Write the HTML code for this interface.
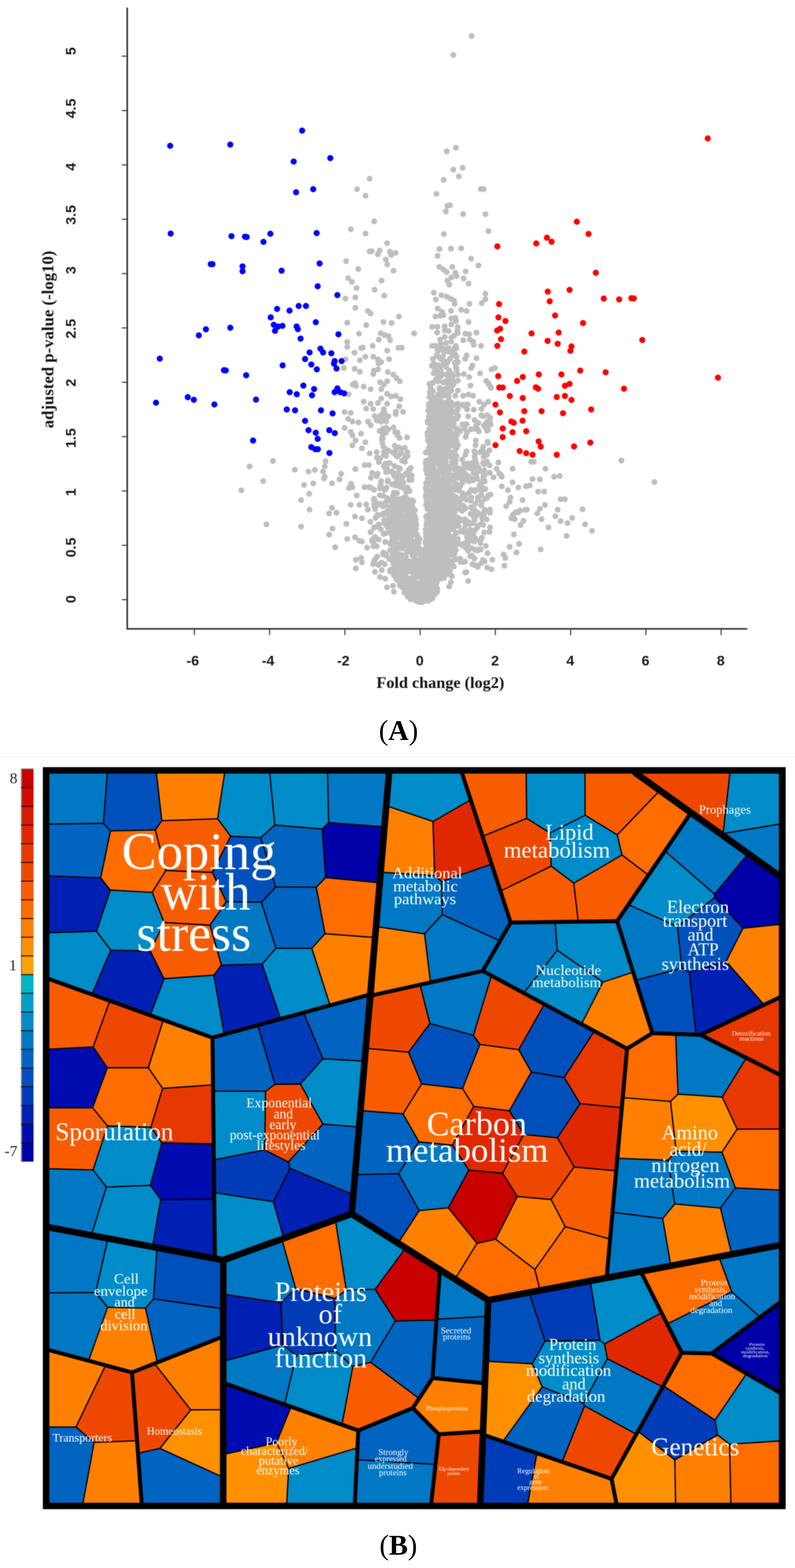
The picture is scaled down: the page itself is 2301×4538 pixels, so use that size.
<!DOCTYPE html>
<html><head><meta charset="utf-8"><title>Figure</title>
<style>html,body{margin:0;padding:0;background:#fff;overflow:hidden}svg{display:block}#volcano{filter:blur(1.1px)}#treemap,#colorbar{filter:blur(0.9px)}</style></head>
<body><svg width="2301" height="4538" viewBox="0 0 2301 4538">
<rect width="2301" height="4538" fill="#fff"/>
<g id="volcano">
<path d="M1070.0 517.5h0M1033.5 547.5h0M1058.0 566.5h0M1015.5 663.5h0M1058.0 676.0h0M1070.0 727.5h0M1001.5 756.0h0M1037.0 778.5h0M1007.5 805.0h0M1018.5 816.0h0M1032.0 833.5h0M1000.0 864.0h0M1028.5 861.0h0M1028.5 891.0h0M1065.0 900.0h0M1005.0 934.0h0M1060.0 941.0h0M1039.0 966.0h0M790.0 1334.0h0M722.5 1350.0h0M853.5 1359.5h0M761.5 1392.5h0M698.5 1419.0h0M893.0 1365.0h0M911.5 1360.0h0M942.5 1335.0h0M940.0 1350.0h0M935.0 1365.0h0M937.5 1385.0h0M880.0 1403.5h0M906.5 1399.0h0M961.0 1399.0h0M987.5 1371.0h0M982.5 1387.5h0M1028.5 1357.5h0M1055.0 1346.0h0M1067.5 1346.0h0M895.0 1429.0h0M871.5 1447.5h0M896.0 1475.0h0M961.0 1470.0h0M952.5 1486.0h0M974.0 1484.0h0M771.0 1517.5h0M871.5 1524.0h0M962.5 1530.0h0M952.5 1547.5h0M970.0 1584.0h0M1016.0 1400.0h0M1010.0 1412.5h0M1032.5 1434.0h0M1015.0 1461.0h0M1040.0 1461.0h0M1027.5 1495.0h0M1047.5 1500.0h0M1002.5 1516.0h0M1005.0 1560.0h0M1027.5 1555.0h0M1047.5 1567.5h0M1062.5 1585.0h0M1055.0 1410.0h0M1067.5 1410.0h0M1060.0 1460.0h0M1065.0 1475.0h0M1005.0 990.0h0M1005.0 1004.0h0M1045.0 1007.5h0M1026.0 1021.0h0M1057.5 1032.5h0M1000.0 1040.0h0M1041.5 1042.5h0M995.0 1065.0h0M1026.5 1067.5h0M1041.5 1076.0h0M1027.5 1109.0h0M1052.5 1119.0h0M1009.0 1141.0h0M1052.5 1162.5h0M1060.0 1182.5h0M997.5 1192.5h0M1015.0 1195.0h0M1007.5 1212.5h0M1020.0 1220.0h0M1037.5 1222.5h0M1065.0 1220.0h0M997.5 1238.5h0M1015.0 1250.0h0M1020.0 1260.0h0M1045.0 1255.0h0M1029.0 1275.0h0M1020.0 1289.0h0M1057.5 1280.0h0M1047.5 1297.5h0M1400.0 547.5h0M1405.0 620.0h0M1413.5 669.0h0M1405.0 850.0h0M1405.0 866.0h0M1422.5 1069.0h0M1432.5 1065.0h0M1407.5 1102.5h0M1417.5 1116.0h0M1413.5 1162.5h0M1405.0 1227.5h0M1407.5 1240.0h0M1412.5 1245.0h0M1411.0 1278.5h0M1400.0 1322.5h0M1798.5 1333.0h0M1894.0 1395.0h0M1442.5 1338.5h0M1537.5 1336.5h0M1545.0 1336.5h0M1483.5 1356.5h0M1437.5 1356.5h0M1578.5 1356.5h0M1445.0 1370.0h0M1428.5 1381.5h0M1452.5 1380.0h0M1604.0 1380.0h0M1620.0 1377.5h0M1483.5 1396.0h0M1541.5 1386.5h0M1562.5 1387.5h0M1522.5 1407.5h0M1533.5 1405.0h0M1500.0 1411.0h0M1452.5 1407.5h0M1470.0 1418.5h0M1557.5 1423.0h0M1575.0 1423.0h0M1622.5 1445.0h0M1635.0 1445.0h0M1477.5 1440.0h0M1475.0 1452.5h0M1512.5 1447.5h0M1577.5 1461.5h0M1562.5 1472.5h0M1614.0 1475.0h0M1686.0 1474.0h0M1520.0 1476.0h0M1505.0 1477.5h0M1492.5 1482.5h0M1555.0 1486.0h0M1482.5 1495.0h0M1490.0 1502.5h0M1607.5 1494.0h0M1656.0 1499.0h0M1567.5 1502.5h0M1515.0 1507.5h0M1622.5 1508.5h0M1642.5 1514.0h0M1693.5 1517.5h0M1506.5 1520.0h0M1587.5 1526.5h0M1713.5 1536.5h0M1487.5 1546.5h0M1640.0 1551.0h0M1502.5 1574.0h0M1475.0 1582.5h0M1565.0 1590.0h0M1365.0 104.0h0M1312.0 159.0h0M1319.5 427.5h0M1293.0 438.0h0M1339.0 485.5h0M1312.0 491.0h0M1328.0 510.5h0M1284.0 520.5h0M1391.5 547.0h0M1263.0 561.0h0M1295.0 596.0h0M1302.5 594.0h0M1290.5 612.0h0M1340.5 619.5h0M1284.5 677.5h0M1083.0 640.5h0M1120.5 704.0h0M1075.8 727.1h0M1098.8 725.2h0M1093.8 735.9h0M1128.3 728.3h0M1144.7 732.1h0M1132.1 737.9h0M1116.8 751.3h0M1121.0 765.4h0M1139.0 783.8h0M1104.5 812.1h0M1084.2 838.5h0M1112.2 855.8h0M1072.7 907.5h0M1154.7 915.9h0M1109.9 932.0h0M1133.2 935.0h0M1198.7 964.9h0M1101.8 964.5h0M1112.9 969.5h0M1124.4 973.3h0M1096.5 982.9h0M1129.0 984.8h0M1078.5 1000.9h0M1049.8 1005.8h0M1120.6 1014.7h0M1153.1 1006.6h0M1162.7 1006.6h0M1080.4 1032.6h0M1093.8 1040.3h0M1103.4 1048.0h0M1095.7 1051.8h0M1126.3 1039.2h0M1093.8 1069.0h0M1082.3 1072.8h0M1080.4 1082.4h0M1122.5 1076.7h0M1138.6 1084.3h0M1147.4 1093.9h0M1157.0 1103.5h0M1120.6 1103.5h0M1100.3 1106.5h0M1111.0 1113.0h0M1021.1 1113.0h0M1030.6 1116.9h0M1072.7 1126.4h0M1103.4 1126.4h0M1120.6 1139.8h0M1132.1 1147.5h0M1145.5 1145.6h0M1158.9 1155.2h0M1103.4 1153.2h0M1093.8 1166.6h0M1120.6 1168.6h0M1072.7 1168.6h0M1155.1 1176.2h0M1080.4 1183.9h0M1111.0 1183.9h0M1271.8 720.6h0M1305.1 719.5h0M1335.0 718.7h0M1266.5 740.5h0M1363.7 748.6h0M1384.8 768.5h0M1271.8 772.3h0M1283.3 780.0h0M1292.9 787.6h0M1309.0 772.3h0M1317.8 789.5h0M1321.6 799.1h0M1306.3 802.9h0M1294.8 812.5h0M1300.5 824.0h0M1347.6 785.7h0M1341.9 806.0h0M1356.0 820.9h0M1255.7 847.0h0M1277.6 854.6h0M1292.9 858.5h0M1304.4 864.2h0M1313.9 869.9h0M1315.8 879.5h0M1261.5 866.9h0M1394.3 877.6h0M1358.7 879.5h0M1266.8 892.9h0M1279.5 902.5h0M1305.5 899.8h0M1335.0 896.7h0M1350.3 899.8h0M1260.3 915.9h0M1273.7 914.0h0M1283.3 912.1h0M1306.3 921.6h0M1317.8 919.7h0M1319.7 929.3h0M1356.0 932.0h0M1250.8 945.7h0M1266.1 945.7h0M1287.1 944.6h0M1306.3 938.9h0M1324.7 947.3h0M1265.3 962.6h0M1287.1 956.1h0M1298.6 958.0h0M1323.5 958.0h0M1346.5 965.7h0M1358.0 967.6h0M1379.0 962.6h0M1273.7 982.9h0M1287.1 975.2h0M1306.3 977.1h0M1313.9 971.4h0M1325.4 963.7h0M1340.7 984.8h0M1359.9 982.9h0M1369.4 988.6h0M1371.4 998.2h0M1392.4 1000.9h0M1250.8 1000.9h0M1275.7 996.3h0M1291.0 992.5h0M1306.3 988.6h0M1281.4 1007.8h0M1298.6 1007.8h0M1310.1 1013.5h0M1268.0 1015.4h0M1285.2 1019.2h0M1264.2 1026.9h0M1317.8 1026.1h0M1252.7 1038.4h0M1275.7 1038.4h0M1302.5 1038.4h0M1325.4 1048.0h0M1346.5 1038.4h0M1350.3 1028.8h0M1379.0 1036.5h0M1254.6 1059.4h0M1268.0 1057.5h0M1283.3 1055.6h0M1363.7 1065.2h0M1367.5 1057.5h0M1260.3 1072.8h0M1275.7 1072.8h0M1300.5 1072.8h0M1321.6 1070.9h0M1389.4 1080.5h0M1268.0 1088.2h0M1291.0 1084.3h0M1310.1 1088.2h0M1325.4 1084.3h0M1342.6 1082.4h0M1358.0 1091.2h0M1413.5 1109.2h0M1421.1 1122.6h0M1243.1 1111.1h0M1268.0 1103.5h0M1283.3 1107.3h0M1310.1 1105.4h0M1325.4 1101.6h0M1361.8 1115.7h0M1271.8 1122.6h0M1291.0 1126.4h0M1306.3 1130.3h0M1325.4 1130.3h0M1245.0 1143.7h0M1268.0 1141.8h0M1283.3 1145.6h0M1298.6 1149.4h0M1317.8 1145.6h0M1340.7 1145.6h0M1356.0 1141.8h0M1369.4 1145.6h0M1387.4 1162.8h0M1243.1 1168.6h0M1260.3 1164.7h0M1275.7 1168.6h0M1291.0 1172.4h0M1306.3 1164.7h0M1325.4 1168.6h0M1352.2 1170.5h0M1268.0 1183.9h0M1287.1 1183.9h0M1306.3 1183.9h0M1325.4 1183.9h0M1371.4 1185.8h0M940.0 1380.0h0M1020.0 1410.0h0M1082.5 1417.5h0M1040.0 1565.0h0M1082.5 1527.5h0M1072.5 1540.0h0M1030.0 1620.0h0M1045.0 1615.0h0M1030.0 1645.0h0M1047.5 1627.5h0M1080.0 1632.5h0M1095.0 1635.0h0M1085.0 1655.0h0M1105.0 1650.0h0M1100.0 1670.0h0M1115.0 1675.0h0M1120.0 1700.0h0M1137.5 1695.0h0M1140.0 1712.5h0M1450.0 1375.0h0M1465.0 1465.0h0M1525.0 1475.0h0M1500.0 1482.5h0M1485.0 1490.0h0M1480.0 1500.0h0M1495.0 1599.0h0M1457.5 1605.0h0M1462.5 1615.0h0M1425.0 1620.0h0M1460.0 1637.5h0M1410.0 1642.5h0M1422.5 1647.5h0M1355.0 1681.5h0M1305.0 1685.0h0M1300.0 1697.5h0M1090.3 1378.5h0M1218.6 1616.8h0M1293.6 1277.8h0M1308.1 1319.0h0M1274.9 1338.1h0M1271.0 1391.8h0M1123.2 1364.8h0M1278.0 1432.6h0M1262.3 1659.0h0M1292.0 1046.4h0M1105.5 1271.3h0M1376.0 1458.1h0M1233.1 1360.9h0M1402.8 1394.1h0M1251.2 1265.2h0M1298.5 1596.5h0M1332.5 1356.6h0M1401.4 1540.7h0M1262.0 1097.7h0M1160.8 1312.6h0M1274.2 1674.6h0M1264.8 1243.2h0M1264.4 1585.1h0M1266.1 1185.4h0M1284.4 1377.1h0M1237.3 1702.4h0M1265.8 1703.7h0M1240.5 1738.4h0M1288.4 1382.1h0M1106.7 1198.1h0M1269.7 1522.5h0M1176.8 1566.6h0M1245.0 1132.7h0M1236.2 1697.2h0M1178.3 1266.0h0M1140.3 1376.5h0M1246.5 1622.9h0M1309.0 1517.2h0M1289.7 1467.2h0M1237.7 1510.0h0M1285.9 1479.5h0M1176.5 1423.6h0M1312.3 1504.1h0M1250.8 1346.6h0M1384.2 1362.7h0M1180.6 1626.8h0M1332.8 1626.0h0M1248.8 1141.6h0M1262.2 1536.8h0M1295.6 1213.5h0M1253.5 1281.1h0M1295.9 1226.6h0M1274.0 1289.5h0M1231.2 1715.4h0M1306.1 1313.3h0M1173.2 1710.1h0M1193.0 1712.8h0M1354.1 1571.9h0M1285.9 1195.6h0M1242.7 1692.4h0M1318.4 1333.4h0M1268.4 1278.2h0M1247.6 1172.6h0M1236.2 1611.1h0M1278.7 1462.5h0M1159.2 1447.2h0M1141.2 1593.3h0M1262.5 1476.8h0M1127.3 1518.8h0M1218.3 1612.0h0M1379.0 1343.8h0M1251.3 1286.1h0M1083.3 1625.3h0M1279.8 1410.3h0M1241.3 1175.5h0M1343.0 1341.9h0M1202.3 1709.3h0M1242.2 1713.7h0M1247.1 1238.0h0M1307.9 1668.0h0M1292.7 1268.4h0M1264.3 1432.7h0M1208.0 1595.1h0M1337.6 1329.9h0M1275.1 1495.1h0M1285.6 1322.4h0M1298.6 1016.6h0M1141.5 1465.5h0M1266.8 1261.3h0M1225.3 1699.1h0M1157.0 1674.0h0M1256.0 1302.9h0M1090.4 1581.0h0M1262.8 1701.9h0M1139.8 1453.6h0M1294.5 1606.8h0M1232.8 1553.3h0M1290.7 1516.9h0M1314.2 1639.7h0M1144.2 1464.5h0M1320.5 1274.5h0M1316.6 1401.3h0M1241.8 1366.6h0M1245.4 1283.0h0M1184.3 1389.5h0M1138.7 1475.9h0M1142.3 1289.7h0M1245.2 1471.8h0M1119.6 1450.4h0M1270.9 1558.8h0M1307.9 1478.6h0M1179.6 1468.7h0M1290.4 1186.5h0M1299.1 1580.5h0M1241.4 1727.1h0M1399.2 1387.3h0M1271.1 1403.6h0M1249.3 1476.9h0M1143.5 1510.5h0M1292.0 1350.0h0M1293.6 1610.8h0M1291.6 1011.2h0M1386.4 1590.6h0M1255.8 1553.5h0M1242.0 1371.6h0M1233.8 1419.7h0M1288.8 1252.6h0M1172.5 1617.5h0M1246.3 1202.7h0M1275.3 1473.6h0M1283.0 1490.9h0M1289.4 1519.5h0M1071.7 1510.1h0M1154.8 1547.2h0M1369.4 1544.4h0M1290.0 1529.1h0M1321.0 1008.5h0M1297.7 1609.7h0M1178.9 1544.2h0M1371.3 1362.8h0M1197.1 1481.1h0M1316.1 1617.2h0M1280.4 1230.2h0M1280.6 1668.5h0M1276.3 1141.1h0M1133.2 1523.0h0M1267.6 1300.3h0M1190.7 1387.5h0M1240.2 1423.1h0M1265.1 1649.5h0M1279.3 1296.5h0M1289.9 1337.4h0M1319.8 1412.8h0M1181.3 1673.8h0M1146.4 1426.2h0M1283.0 1369.6h0M1236.8 1650.5h0M1135.1 1620.4h0M1243.2 1382.9h0M1157.7 1609.6h0M1253.0 1524.2h0M1374.3 1535.0h0M1291.6 1603.7h0M1163.0 1506.1h0M1259.8 1689.6h0M1233.2 1398.2h0M1283.5 1425.4h0M1140.4 1529.9h0M1261.8 1457.1h0M1249.4 1285.8h0M1374.9 1328.2h0M1193.4 1503.8h0M1236.3 1585.6h0M1244.3 1718.2h0M1282.6 1283.2h0M1244.8 1331.2h0M1267.7 1371.0h0M1251.1 1385.9h0M1359.1 1382.4h0M1246.7 1140.3h0M1290.5 1449.9h0M1417.8 1474.8h0M1214.0 1587.6h0M1163.1 1482.5h0M1252.9 1614.1h0M1239.5 1591.4h0M1124.6 1526.6h0M1164.4 1622.9h0M1201.9 1715.0h0M1161.3 1671.1h0M1144.4 1650.8h0M1249.6 1404.8h0M1268.7 1231.8h0M1182.4 1494.4h0M1266.7 1269.7h0M1116.3 1206.3h0M1307.9 1495.1h0M1156.9 1631.6h0M1290.1 1135.5h0M1320.8 1190.0h0M1309.5 1260.4h0M1218.4 1693.9h0M1114.7 1568.4h0M1316.0 1601.1h0M1260.4 1186.3h0M1304.6 1177.5h0M1129.2 1497.2h0M1231.4 1571.6h0M1139.0 1523.4h0M1199.2 1620.2h0M1225.1 1723.5h0M1169.1 1493.6h0M1267.2 1259.7h0M1283.2 1221.6h0M1255.5 1421.4h0M1149.3 1427.2h0M1249.6 1439.0h0M1267.1 1578.1h0M1219.1 1662.9h0M1085.2 1450.4h0M1262.1 1599.1h0M1273.5 1084.7h0M1264.0 1216.4h0M1258.5 1514.4h0M1207.7 1651.3h0M1382.9 1439.6h0M1272.0 1289.4h0M1266.2 1575.1h0M1248.1 1473.9h0M1262.8 1302.8h0M1238.5 1274.0h0M1178.0 1542.1h0M1274.2 1059.7h0M1166.6 1192.1h0M1281.0 1644.6h0M1184.4 1559.0h0M1090.1 1309.0h0M1289.2 1249.6h0M1279.2 1191.7h0M1323.4 1245.6h0M1258.5 1439.0h0M1300.1 1448.8h0M1299.4 1577.5h0M1244.6 1474.5h0M1289.5 1167.2h0M1141.1 1566.3h0M1239.9 1664.7h0M1309.0 1445.8h0M1272.7 1658.6h0M1418.2 1222.0h0M1151.1 1321.2h0M1117.5 1319.6h0M1243.7 1685.3h0M1326.0 1203.6h0M1248.1 1304.5h0M1298.6 1405.8h0M1321.2 1297.9h0M1216.7 1725.8h0M1183.5 1482.1h0M1180.5 1724.8h0M1290.3 1554.5h0M1284.5 1505.2h0M1290.1 1405.1h0M1284.4 1197.6h0M1235.6 1538.3h0M1254.6 1606.8h0M1294.2 1617.3h0M1361.2 1610.1h0M1194.8 1599.2h0M1237.4 1595.5h0M1122.5 1507.4h0M1252.2 1177.3h0M1140.3 1425.6h0M1132.5 1535.8h0M1286.3 1277.2h0M1303.0 1245.8h0M1243.8 1672.4h0M1231.8 1626.3h0M1235.8 1664.2h0M1241.9 1381.8h0M1304.6 1552.4h0M1339.2 1574.3h0M1318.9 1360.2h0M1257.9 1278.9h0M1241.1 1435.5h0M1256.6 1305.1h0M1225.7 1655.0h0M1306.2 1220.0h0M1300.6 1192.2h0M1310.1 1115.5h0M1181.6 1418.2h0M1243.8 1693.7h0M1239.7 1644.5h0M1259.3 1066.0h0M1400.5 1489.8h0M1278.5 1344.2h0M1201.1 1494.7h0M1111.2 1349.0h0M1257.4 1378.1h0M1245.6 1664.4h0M1269.6 1514.0h0M1172.2 1664.3h0M1272.5 1174.5h0M1344.4 1530.2h0M1231.6 1687.0h0M1366.0 1586.8h0M1321.1 1260.5h0M1174.6 1716.9h0M1309.9 1530.0h0M1112.2 1509.5h0M1229.1 1603.8h0M1291.2 1280.4h0M1197.3 1728.2h0M1325.1 1559.4h0M1217.2 1729.7h0M1204.9 1718.8h0M1234.6 1416.8h0M1290.6 1193.8h0M1193.8 1701.2h0M1312.2 1577.9h0M1207.4 1601.1h0M1252.4 1499.4h0M1116.7 1252.7h0M1303.7 1431.1h0M1270.8 1204.3h0M1346.0 1625.4h0M1284.3 1205.2h0M1281.2 1614.9h0M1195.9 1521.8h0M1363.5 1242.6h0M1290.2 1103.5h0M1146.3 1591.9h0M1080.7 1580.5h0M1246.6 1316.2h0M1290.5 1540.5h0M1317.9 1339.2h0M1138.0 1549.1h0M1290.6 1196.8h0M1236.7 1613.1h0M1274.9 1282.7h0M1274.9 1474.7h0M1305.5 1532.4h0M1297.3 1516.3h0M1076.4 1564.8h0M1264.6 1612.7h0M1286.9 1443.5h0M1171.8 1296.1h0M1354.0 1341.7h0M1367.4 1632.8h0M1252.0 1339.9h0M1283.9 1483.8h0M1363.0 1534.6h0M1308.3 1634.1h0M1179.8 1467.7h0M1258.0 1720.4h0M1255.8 1484.9h0M1276.9 1489.5h0M1313.2 1226.7h0M1275.4 1493.3h0M1197.3 1539.1h0M1294.5 1352.0h0M1234.2 1698.7h0M1253.7 1178.8h0M1162.9 1689.4h0M1298.5 1383.9h0M1234.6 1552.4h0M1198.7 1673.4h0M1249.1 1707.4h0M1126.7 1617.7h0M1282.6 1192.4h0M1266.7 1531.0h0M1273.5 1661.3h0M1255.3 1633.2h0M1298.7 1382.6h0M1155.3 1491.0h0M1253.4 1505.3h0M1305.2 1596.5h0M1236.4 1505.7h0M1145.2 1198.5h0M1271.9 1265.3h0M1130.6 1519.1h0M1395.1 1418.0h0M1123.9 1516.7h0M1346.9 1172.5h0M1302.2 1421.5h0M1137.5 1434.5h0M1291.9 1179.7h0M1285.2 1672.8h0M1178.9 1494.2h0M1247.4 1388.9h0M1239.2 1188.4h0M1319.3 1574.7h0M1292.9 1207.8h0M1233.1 1462.0h0M1170.8 1572.9h0M1256.1 1621.5h0M1130.8 1570.7h0M1235.5 1713.5h0M1234.2 1739.0h0M1149.5 1678.5h0M1292.5 1661.9h0M1203.2 1626.4h0M1258.7 1251.0h0M1234.7 1671.1h0M1179.0 1652.0h0M1251.5 1361.1h0M1321.1 1320.3h0M1253.3 1612.0h0M1245.8 1670.4h0M1249.6 1349.3h0M1348.9 1505.5h0M1187.6 1571.9h0M1286.4 1226.2h0M1240.2 1704.8h0M1139.3 1441.6h0M1276.5 1505.2h0M1237.9 1369.8h0M1258.6 1205.8h0M1262.8 1687.8h0M1317.9 1470.1h0M1418.2 1526.6h0M1390.2 1418.4h0M1181.4 1565.1h0M1241.1 1205.2h0M1106.0 1206.4h0M1159.8 1544.8h0M1145.1 1488.1h0M1120.7 1506.9h0M1157.2 1607.9h0M1234.2 1536.1h0M1190.1 1695.9h0M1117.8 1607.8h0M1147.4 1676.2h0M1256.5 1637.7h0M1308.7 1555.6h0M1263.9 1302.2h0M1336.7 1439.7h0M1196.8 1708.3h0M1260.1 1643.5h0M1196.1 1451.2h0M1142.0 1378.6h0M1319.6 1001.3h0M1219.3 1722.9h0M1163.6 1656.8h0M1183.2 1720.9h0M1195.6 1671.5h0M1276.0 1597.4h0M1246.0 1428.5h0M1281.4 1135.0h0M1098.8 1247.4h0M1297.1 1316.0h0M1249.3 1698.7h0M1366.6 1483.4h0M1320.9 1380.9h0M1137.9 1499.7h0M1355.1 1353.2h0M1109.5 1240.2h0M1274.1 1539.4h0M1372.7 1475.0h0M1375.2 1534.8h0M1203.2 1500.9h0M1239.0 1251.7h0M1248.7 1438.7h0M1256.1 1205.7h0M1157.1 1690.5h0M1151.8 1585.2h0M1150.3 1251.3h0M1179.9 1726.8h0M1278.3 1190.4h0M1200.1 1567.9h0M1307.9 1465.9h0M1271.1 1240.2h0M1183.9 1480.7h0M1154.1 1639.0h0M1275.5 1281.4h0M1288.7 1580.3h0M1261.9 1288.9h0M1224.1 1740.8h0M1200.1 1642.5h0M1285.2 1420.3h0M1301.9 1495.9h0M1230.0 1620.6h0M1244.0 1352.4h0M1160.6 1480.8h0M1179.9 1410.8h0M1239.2 1460.0h0M1178.0 1506.3h0M1285.8 1581.8h0M1268.3 1561.8h0M1227.0 1723.5h0M1284.3 1643.0h0M1156.7 1518.5h0M1191.6 1546.2h0M1193.7 1606.1h0M1166.6 1474.2h0M1158.9 1619.7h0M1280.5 1467.0h0M1248.3 1111.2h0M1236.3 1401.1h0M1246.3 1624.3h0M1146.2 1582.7h0M1296.9 1277.2h0M1360.8 1355.1h0M1212.2 1664.9h0M1301.3 1417.5h0M1271.2 1182.9h0M1289.5 1471.5h0M1319.4 1543.3h0M1294.9 1489.9h0M1279.0 1251.2h0M1304.6 1214.0h0M1110.5 1545.4h0M1245.5 1309.5h0M1227.1 1652.0h0M1266.3 1310.5h0M1225.5 1683.1h0M1275.1 1529.9h0M1114.3 1353.1h0M1086.4 1553.7h0M1246.4 1536.8h0M1214.3 1665.9h0M1296.7 1604.0h0M1160.7 1459.7h0M1231.9 1532.3h0M1297.3 1512.7h0M1269.3 1384.5h0M1163.7 1587.4h0M1144.2 1251.1h0M1113.6 1632.7h0M1262.4 1606.4h0M1258.9 1198.3h0M1136.9 1528.4h0M1184.1 1692.2h0M1231.6 1566.7h0M1096.6 1337.6h0M1275.2 1177.4h0M1242.0 1294.7h0M1246.9 1241.0h0M1161.6 1463.0h0M1259.8 1280.2h0M1350.1 1446.2h0M1302.8 1206.3h0M1271.9 1282.7h0M1260.1 1692.5h0M1237.3 1473.2h0M1182.1 1653.8h0M1149.2 1525.8h0M1282.0 1242.8h0M1191.1 1599.3h0M1353.6 1170.9h0M1373.6 1616.2h0M1268.4 1205.6h0M1338.2 1228.5h0M1168.6 1575.6h0M1192.2 1656.4h0M1095.7 1561.6h0M1302.3 1651.7h0M1168.8 1551.4h0M1293.5 1358.5h0M1268.4 1643.4h0M1250.2 1214.7h0M1233.8 1680.5h0M1201.0 1618.2h0M1251.6 1435.1h0M1276.8 1404.9h0M1226.2 1730.6h0M1152.7 1582.1h0M1258.1 1397.5h0M1299.0 1167.4h0M1288.9 1208.3h0M1191.6 1601.9h0M1298.9 1293.0h0M1256.4 1476.5h0M1151.3 1525.4h0M1202.5 1735.9h0M1205.9 1574.3h0M1142.9 1584.9h0M1334.5 1365.0h0M1257.3 1446.0h0M1137.3 1467.4h0M1084.4 1204.5h0M1122.1 1394.1h0M1332.3 1448.2h0M1213.7 1560.1h0M1235.1 1606.0h0M1324.6 1452.0h0M1355.1 1205.3h0M1393.2 1201.8h0M1302.7 1434.9h0M1214.7 1706.1h0M1242.5 1366.5h0M1249.3 1598.3h0M1269.4 1664.0h0M1113.4 1311.9h0M1175.6 1543.9h0M1264.2 1444.1h0M1250.6 1419.5h0M1296.9 1489.4h0M1242.9 1564.6h0M1277.1 1273.8h0M1235.7 1665.1h0M1293.4 1255.6h0M1113.5 1418.1h0M1250.3 1190.0h0M1166.5 1583.6h0M1218.9 1687.3h0M1144.1 1613.9h0M1298.9 1084.7h0M1159.6 1632.4h0M1298.6 1265.9h0M1308.6 1210.4h0M1284.3 1261.0h0M1222.6 1694.3h0M1127.6 1469.6h0M1249.8 1355.4h0M1084.7 1619.8h0M1367.9 1514.1h0M1310.2 1592.4h0M1124.4 1491.6h0M1263.2 1301.2h0M1257.5 1587.5h0M1111.1 1190.5h0M1312.6 1277.2h0M1249.6 1556.2h0M1193.6 1517.3h0M1350.3 1227.7h0M1258.8 1306.1h0M1255.2 1716.3h0M1417.9 1483.9h0M1265.5 1331.6h0M1320.0 1351.4h0M1188.3 1677.8h0M1276.3 1615.9h0M1152.8 1528.5h0M1313.8 1259.9h0M1251.5 1732.1h0M1304.4 1628.8h0M1265.6 1633.2h0M1277.0 1320.1h0M1102.3 1532.1h0M1096.3 1518.1h0M1183.4 1594.1h0M1304.4 1276.3h0M1284.2 1565.7h0M1235.4 1511.5h0M1264.9 1245.1h0M1290.7 1550.9h0M1236.8 1555.7h0M1395.4 1499.6h0M1140.8 1638.7h0M1259.7 1196.2h0M1378.8 1373.4h0M1253.4 1314.2h0M1327.5 1522.3h0M1290.7 1233.3h0M1392.3 1396.9h0M1250.6 1175.0h0M1112.1 1242.4h0M1091.1 1324.4h0M1252.0 1572.3h0M1268.5 1057.3h0M1238.6 1678.6h0M1293.1 1436.5h0M1147.8 1490.9h0M1077.0 1368.6h0M1328.4 1367.7h0M1151.6 1671.8h0M1305.7 1174.3h0M1293.0 1391.4h0M1277.1 1395.2h0M1276.2 1395.1h0M1147.4 1529.5h0M1162.4 1499.2h0M1242.6 1593.8h0M1294.7 1443.6h0M1257.0 1434.3h0M1169.3 1685.0h0M1166.5 1666.8h0M1319.4 1591.7h0M1235.1 1664.9h0M1270.8 1643.9h0M1238.1 1349.6h0M1248.1 1454.7h0M1403.8 1443.6h0M1321.3 1401.0h0M1194.2 1534.7h0M1250.5 1402.4h0M1272.9 1332.8h0M1360.6 1515.8h0M1115.4 1455.4h0M1339.9 1385.8h0M1147.9 1487.2h0M1273.3 1178.0h0M1235.7 1531.9h0M1247.7 1234.3h0M1244.8 1265.2h0M1308.3 1436.7h0M1146.0 1191.4h0M1294.0 1427.3h0M1264.0 1685.1h0M1251.1 1209.9h0M1397.9 1363.8h0M1248.2 1354.9h0M1362.4 1449.0h0M1316.6 1005.6h0M1265.0 1711.6h0M1397.7 1367.0h0M1258.7 1673.1h0M1320.2 1170.4h0M1239.4 1490.9h0M1340.2 1228.0h0M1240.2 1648.7h0M1238.8 1495.9h0M1134.1 1518.8h0M1178.5 1635.3h0M1248.9 1529.6h0M1387.8 1487.7h0M1297.9 1451.3h0M1163.6 1622.3h0M1260.9 1656.3h0M1195.2 1512.0h0M1244.1 1193.0h0M1296.1 1290.1h0M1283.0 1393.1h0M1383.3 1243.6h0M1138.3 1473.8h0M1266.4 1551.1h0M1261.6 1615.0h0M1290.2 1499.0h0M1205.9 1637.8h0M1290.7 1328.2h0M1247.3 1595.8h0M1262.0 1262.1h0M1189.3 1677.4h0M1308.7 1431.5h0M1282.7 1489.8h0M1200.7 1476.6h0M1261.8 1205.0h0M1264.2 1242.9h0M1240.3 1390.2h0M1263.4 1149.4h0M1301.0 1389.5h0M1145.9 1302.9h0M1130.8 1514.6h0M1299.1 1402.5h0M1104.1 1628.3h0M1247.6 1402.6h0M1260.0 1263.7h0M1196.6 1494.0h0M1261.0 1715.3h0M1367.9 1385.9h0M1165.1 1381.3h0M1177.2 1674.8h0M1151.6 1445.8h0M1252.0 1483.3h0M1262.0 1230.9h0M1265.9 1555.2h0M1167.2 1461.6h0M1236.0 1395.8h0M1198.4 1710.2h0M1138.6 1458.1h0M1291.2 1177.9h0M1236.9 1558.9h0M1248.6 1193.7h0M1304.8 1215.9h0M1270.6 1548.3h0M1248.5 1427.6h0M1142.0 1348.7h0M1159.2 1614.8h0M1160.0 1694.9h0M1227.6 1709.2h0M1308.3 1082.4h0M1137.1 1530.2h0M1329.0 1420.1h0M1154.3 1354.4h0M1247.2 1633.8h0M1279.3 1586.3h0M1164.1 1453.5h0M1417.4 1226.6h0M1157.4 1374.8h0M1349.9 1655.9h0M1174.9 1611.8h0M1390.3 1562.6h0M1303.1 1501.6h0M1290.7 1515.5h0M1250.2 1440.5h0M1250.7 1159.4h0M1252.3 1649.4h0M1272.8 1343.2h0M1344.4 1507.3h0M1232.3 1543.2h0M1390.8 1571.7h0M1156.4 1511.7h0M1298.6 1409.1h0M1120.7 1441.5h0M1260.4 1595.6h0M1247.5 1569.8h0M1250.5 1573.6h0M1229.8 1630.8h0M1250.5 1555.4h0M1283.2 1487.2h0M1269.4 1561.7h0M1240.4 1573.0h0M1070.1 1312.3h0M1116.3 1603.3h0M1406.2 1580.1h0M1317.5 1450.7h0M1203.4 1531.0h0M1286.0 1011.9h0M1296.9 1579.3h0M1267.1 1669.9h0M1318.9 1334.5h0M1267.5 1232.5h0M1139.1 1588.8h0M1313.3 1409.4h0M1273.7 1363.3h0M1242.2 1372.6h0M1128.7 1654.1h0M1187.7 1693.1h0M1411.0 1601.3h0M1155.1 1548.4h0M1115.7 1213.1h0M1278.2 1386.7h0M1255.4 1234.8h0M1351.1 1252.1h0M1282.5 1556.4h0M1286.4 1558.1h0M1174.3 1530.6h0M1254.5 1219.6h0M1290.8 1535.3h0M1208.8 1639.9h0M1247.9 1401.7h0M1253.3 1583.8h0M1258.7 1423.8h0M1275.5 1342.5h0M1267.7 1513.3h0M1332.6 1464.6h0M1299.8 1360.9h0M1150.5 1485.0h0M1244.2 1277.8h0M1312.3 1467.8h0M1164.7 1695.0h0M1093.6 1461.4h0M1287.2 1273.1h0M1256.1 1289.3h0M1254.4 1265.0h0M1237.2 1419.3h0M1243.0 1354.8h0M1260.9 1692.6h0M1244.8 1383.8h0M1132.1 1575.4h0M1279.1 1420.0h0M1175.3 1505.7h0M1418.8 1209.1h0M1157.7 1635.6h0M1161.9 1552.1h0M1273.0 1511.4h0M1285.7 1303.9h0M1383.4 1444.9h0M1288.2 1307.5h0M1200.6 1477.5h0M1304.4 1112.1h0M1272.9 1539.9h0M1086.8 1498.9h0M1394.0 1515.2h0M1248.8 1489.3h0M1209.2 1624.2h0M1272.4 1576.9h0M1138.4 1630.4h0M1249.9 1597.5h0M1234.5 1590.5h0M1257.8 1437.8h0M1264.8 1552.3h0M1376.6 1241.5h0M1249.1 1633.1h0M1171.8 1707.6h0M1410.5 1201.5h0M1278.4 1211.8h0M1220.2 1733.7h0M1215.4 1742.7h0M1282.5 1642.6h0M1177.1 1699.1h0M1332.3 1407.0h0M1147.2 1485.4h0M1295.1 1258.9h0M1394.1 1453.3h0M1398.4 1519.3h0M1200.4 1525.1h0M1128.3 1340.3h0M1290.9 1480.0h0M1289.5 1409.7h0M1286.4 1181.8h0M1249.7 1320.9h0M1172.1 1336.8h0M1139.0 1236.9h0M1268.6 1032.4h0M1163.1 1673.7h0M1215.7 1670.6h0M1252.3 1108.2h0M1287.1 1295.2h0M1261.0 1509.8h0M1209.5 1737.1h0M1304.6 1442.4h0M1137.7 1607.3h0M1279.9 1040.6h0M1318.0 1212.6h0M1246.3 1176.9h0M1331.7 1376.4h0M1134.0 1652.7h0M1260.8 1305.5h0M1379.2 1238.0h0M1140.0 1655.3h0M1312.7 1221.8h0M1389.5 1308.7h0M1241.2 1331.3h0M1149.4 1558.1h0M1129.9 1497.7h0M1241.6 1673.7h0M1271.0 1465.7h0M1341.9 1357.9h0M1195.2 1609.3h0M1296.8 1511.4h0M1216.0 1638.6h0M1255.5 1257.9h0M1198.5 1507.3h0M1259.8 1201.2h0M1198.3 1710.8h0M1294.1 1483.7h0M1233.1 1599.5h0M1235.6 1427.7h0M1102.8 1220.7h0M1354.8 1594.0h0M1275.3 1635.0h0M1281.4 1317.4h0M1256.8 1262.5h0M1362.0 1487.7h0M1211.8 1571.6h0M1246.9 1509.7h0M1128.2 1448.6h0M1276.7 1179.5h0M1310.2 1100.2h0M1261.5 1695.5h0M1229.3 1685.7h0M1205.6 1586.5h0M1161.4 1299.6h0M1207.8 1560.4h0M1150.2 1605.7h0M1225.2 1654.7h0M1227.0 1731.4h0M1258.9 1483.7h0M1290.1 1314.4h0M1264.9 1542.1h0M1314.0 1290.9h0M1316.6 1049.6h0M1247.8 1721.4h0M1268.8 1416.7h0M1150.9 1473.3h0M1296.5 1176.4h0M1297.7 1407.1h0M1267.0 1274.6h0M1315.9 1620.0h0M1218.0 1621.9h0M1262.5 1157.9h0M1375.3 1313.4h0M1269.8 1220.3h0M1318.3 1417.2h0M1232.8 1433.0h0M1281.7 1404.3h0M1111.5 1309.0h0M1261.2 1442.5h0M1277.0 1617.4h0M1251.3 1705.0h0M1340.5 1174.1h0M1268.6 1212.0h0M1315.3 1517.1h0M1262.7 1489.0h0M1166.0 1652.6h0M1168.1 1698.8h0M1307.5 1213.4h0M1269.8 1234.7h0M1377.0 1274.9h0M1073.3 1411.5h0M1286.6 1402.8h0M1260.2 1308.7h0M1308.1 1503.6h0M1320.6 1262.3h0M1105.0 1412.8h0M1215.8 1727.1h0M1262.2 1298.8h0M1101.3 1212.2h0M1158.0 1694.4h0M1275.5 1298.1h0M1283.4 1548.9h0M1230.9 1693.1h0M1274.9 1496.8h0M1242.3 1495.1h0M1238.2 1428.0h0M1300.6 1529.7h0M1281.8 1033.1h0M1247.5 1689.8h0M1296.2 1570.4h0M1381.5 1526.4h0M1375.8 1496.2h0M1303.5 1222.9h0M1241.3 1492.7h0M1220.8 1685.4h0M1195.0 1491.8h0M1240.8 1622.1h0M1254.7 1258.0h0M1294.3 1222.7h0M1134.9 1598.3h0M1268.4 1212.9h0M1310.2 1376.6h0M1157.3 1503.2h0M1297.4 1113.8h0M1311.7 1232.9h0M1130.6 1448.9h0M1303.0 1584.0h0M1287.6 1601.9h0M1258.7 1501.7h0M1198.2 1538.4h0M1253.5 1523.9h0M1244.6 1499.7h0M1269.0 1518.7h0M1267.6 1342.9h0M1108.4 1604.3h0M1266.2 1605.2h0M1190.1 1677.3h0M1339.8 1394.3h0M1177.3 1704.0h0M1291.9 1104.9h0M1272.6 1489.7h0M1250.4 1248.0h0M1108.2 1465.6h0M1294.3 1581.3h0M1183.0 1445.9h0M1321.6 1370.1h0M1275.2 1450.4h0M1247.2 1559.1h0M1327.1 1507.6h0M1287.1 1546.6h0M1267.5 1650.9h0M1208.0 1686.9h0M1310.7 1309.5h0M1294.7 1103.1h0M1279.9 1658.6h0M1232.0 1606.4h0M1200.1 1631.5h0M1408.1 1502.9h0M1217.9 1742.7h0M1166.3 1461.8h0M1373.5 1320.9h0M1364.2 1440.1h0M1291.0 1061.8h0M1356.5 1511.5h0M1326.7 1242.7h0M1227.6 1682.2h0M1286.8 1571.2h0M1291.8 1460.6h0M1284.4 1482.3h0M1331.1 1473.4h0M1364.4 1563.6h0M1157.8 1662.9h0M1137.6 1309.9h0M1154.9 1632.2h0M1153.8 1628.2h0M1166.2 1563.9h0M1185.1 1499.3h0M1302.3 1260.5h0M1404.0 1478.1h0M1187.7 1467.6h0M1323.1 1211.4h0M1323.1 1617.8h0M1151.8 1370.5h0M1193.3 1448.3h0M1267.0 1617.9h0M1276.4 1147.3h0M1315.2 1395.9h0M1253.7 1198.8h0M1245.6 1196.8h0M1216.6 1605.1h0M1258.3 1604.7h0M1227.6 1627.0h0M1262.6 1383.9h0M1264.3 1595.2h0M1218.4 1616.2h0M1160.1 1576.4h0M1288.8 1225.9h0M1290.9 1127.2h0M1155.7 1574.2h0M1292.0 1513.1h0M1256.5 1341.7h0M1201.9 1731.7h0M1160.0 1667.3h0M1214.8 1706.7h0M1271.7 1628.6h0M1270.8 1530.1h0M1312.0 1288.9h0M1256.9 1155.2h0M1302.0 1178.9h0M1285.0 1228.4h0M1244.0 1552.8h0M1312.5 1274.3h0M1235.2 1632.0h0M1238.7 1614.5h0M1249.5 1696.8h0M1198.6 1504.4h0M1276.9 1578.3h0M1151.3 1606.4h0M1319.7 1409.6h0M1290.7 1448.7h0M1174.7 1568.1h0M1157.6 1502.1h0M1240.8 1277.7h0M1259.9 1631.9h0M1297.3 1498.7h0M1234.4 1416.6h0M1257.3 1367.5h0M1245.0 1353.5h0M1256.1 1529.5h0M1244.2 1475.3h0M1240.4 1690.3h0M1146.8 1318.4h0M1276.4 1527.5h0M1296.6 1460.7h0M1180.5 1510.1h0M1270.9 1461.1h0M1123.8 1243.0h0M1253.1 1512.6h0M1202.7 1594.5h0M1189.2 1555.9h0M1229.9 1636.3h0M1248.3 1674.1h0M1233.1 1334.0h0M1193.0 1548.4h0M1281.8 1415.5h0M1190.5 1535.4h0M1255.1 1170.4h0M1315.8 1348.2h0M1316.3 1312.5h0M1266.8 1571.6h0M1297.3 1448.6h0M1180.6 1501.9h0M1123.0 1390.1h0M1312.3 1027.6h0M1265.5 1476.1h0M1203.3 1637.6h0M1234.2 1437.0h0M1237.2 1332.9h0M1183.4 1360.1h0M1275.7 1362.9h0M1252.3 1559.3h0M1138.2 1484.6h0M1293.0 1494.8h0M1298.6 1261.5h0M1278.2 1168.7h0M1153.5 1657.3h0M1142.6 1554.4h0M1377.5 1232.8h0M1179.9 1724.1h0M1207.8 1561.7h0M1298.3 1143.4h0M1249.6 1559.0h0M1245.0 1570.5h0M1224.7 1711.0h0M1244.5 1372.4h0M1092.5 1489.9h0M1259.6 1298.0h0M1106.4 1281.9h0M1259.8 1658.2h0M1157.2 1634.9h0M1311.0 1219.1h0M1332.1 1538.6h0M1360.5 1533.2h0M1199.0 1699.8h0M1262.1 1396.1h0M1183.2 1531.7h0M1296.7 1635.0h0M1139.2 1564.4h0M1302.7 1489.0h0M1285.0 1245.5h0M1295.9 1471.5h0M1318.9 1056.0h0M1258.2 1315.7h0M1392.7 1462.4h0M1251.4 1321.5h0M1245.9 1120.7h0M1265.5 1497.1h0M1274.0 1189.7h0M1348.6 1585.8h0M1264.4 1425.3h0M1368.7 1390.4h0M1321.7 1562.3h0M1135.0 1454.8h0M1096.0 1491.0h0M1298.9 1096.5h0M1274.5 1287.2h0M1279.4 1663.7h0M1163.5 1541.2h0M1272.4 1346.6h0M1233.6 1555.0h0M1261.2 1666.7h0M1295.4 1318.6h0M1289.4 1509.1h0M1298.3 1313.2h0M1271.3 1254.2h0M1303.9 1222.9h0M1240.2 1647.0h0M1254.5 1544.2h0M1295.5 1142.3h0M1302.7 1375.5h0M1263.4 1445.5h0M1279.1 1634.0h0M1285.3 1224.1h0M1258.8 1203.0h0M1325.5 1448.4h0M1384.6 1224.1h0M1225.7 1734.3h0M1290.0 1565.6h0M1191.4 1699.7h0M1301.3 1508.2h0M1138.2 1487.5h0M1354.1 1576.3h0M1365.9 1352.3h0M1117.1 1238.0h0M1173.3 1638.2h0M1248.1 1634.8h0M1324.5 1405.1h0M1381.7 1593.3h0M1271.1 1229.7h0M1373.8 1421.9h0M1309.2 1500.2h0M1278.6 1207.7h0M1250.9 1730.2h0M1237.9 1502.6h0M1253.0 1131.7h0M1139.2 1480.2h0M1250.7 1296.2h0M1314.0 1483.6h0M1311.2 1193.3h0M1153.9 1634.7h0M1409.9 1440.5h0M1286.9 1642.2h0M1314.1 1108.8h0M1181.3 1486.3h0M1300.9 1089.5h0M1401.4 1170.5h0M1188.8 1354.6h0M1243.6 1664.4h0M1082.6 1443.4h0M1251.7 1577.4h0M1140.6 1455.4h0M1402.5 1309.5h0M1200.5 1636.1h0M1321.7 1033.3h0M1132.0 1516.9h0M1285.6 1266.2h0M1119.3 1341.7h0M1258.8 1365.7h0M1243.2 1302.1h0M1277.8 1194.7h0M1340.2 1171.2h0M1263.6 1498.1h0M1277.6 1176.3h0M1260.3 1210.2h0M1288.6 1213.6h0M1260.6 1497.1h0M1146.2 1502.3h0M1273.4 1304.3h0M1185.9 1631.6h0M1346.9 1316.4h0M1271.0 1209.1h0M1409.5 1335.5h0M1252.9 1716.7h0M1222.0 1686.9h0M1073.3 1382.7h0M1149.0 1556.8h0M1253.0 1428.4h0M1238.6 1500.4h0M1177.8 1688.5h0M1320.0 1064.1h0M1148.8 1478.6h0M1284.2 1376.8h0M1314.3 1528.1h0M1130.1 1648.9h0M1271.2 1512.2h0M1324.5 1201.6h0M1354.4 1384.0h0M1347.9 1264.5h0M1294.4 1420.4h0M1206.2 1650.9h0M1357.0 1426.8h0M1234.6 1650.2h0M1269.2 1326.9h0M1247.4 1671.1h0M1099.8 1326.6h0M1229.8 1676.4h0M1203.0 1512.8h0M1238.5 1403.4h0M1226.7 1693.1h0M1416.6 1539.4h0M1136.1 1491.2h0M1286.4 1488.4h0M1173.3 1438.2h0M1309.2 1569.0h0M1197.9 1685.6h0M1163.0 1449.6h0M1240.2 1370.5h0M1140.6 1442.6h0M1174.3 1371.0h0M1174.6 1712.0h0M1276.9 1166.4h0M1278.1 1411.2h0M1284.8 1351.1h0M1119.5 1205.0h0M1215.5 1713.2h0M1351.8 1554.4h0M1296.9 1514.7h0M1279.6 1533.5h0M1325.1 1570.8h0M1251.2 1495.1h0M1243.7 1259.2h0M1261.3 1519.6h0M1279.5 1192.4h0M1254.8 1535.4h0M1183.7 1688.1h0M1109.7 1599.0h0M1140.4 1666.1h0M1210.7 1594.6h0M1247.5 1301.4h0M1153.7 1575.9h0M1308.9 1605.5h0M1259.6 1335.0h0M1115.2 1342.3h0M1287.8 1269.4h0M1256.3 1285.6h0M1275.9 1088.9h0M1235.3 1593.6h0M1156.6 1672.1h0M1265.5 1332.2h0M1167.3 1514.4h0M1232.3 1412.6h0M1276.8 1419.6h0M1372.6 1567.4h0M1111.3 1316.8h0M1292.7 1610.9h0M1271.1 1416.6h0M1252.6 1175.8h0M1082.8 1463.7h0M1250.9 1633.5h0M1410.0 1220.0h0M1310.2 1638.6h0M1234.9 1619.4h0M1280.6 1556.6h0M1397.9 1340.0h0M1139.8 1427.8h0M1156.3 1267.5h0M1275.7 1361.2h0M1200.1 1659.4h0M1241.8 1467.3h0M1249.1 1497.9h0M1173.7 1419.3h0M1140.3 1613.7h0M1266.9 1246.4h0M1280.0 1182.1h0M1224.5 1737.5h0M1316.0 1481.9h0M1237.9 1261.7h0M1269.2 1239.1h0M1251.9 1176.2h0M1260.4 1514.7h0M1251.8 1566.7h0M1134.3 1364.2h0M1197.9 1668.4h0M1168.0 1475.9h0M1249.9 1283.8h0M1161.4 1448.3h0M1288.1 1294.4h0M1183.3 1525.5h0M1238.4 1574.6h0M1248.5 1337.4h0M1261.4 1711.6h0M1240.7 1536.2h0M1252.9 1632.6h0M1269.0 1549.9h0M1255.2 1356.2h0M1180.8 1454.0h0M1237.7 1258.3h0M1256.1 1078.8h0M1167.7 1553.1h0M1296.0 1525.8h0M1404.5 1415.3h0M1303.0 1264.4h0M1246.3 1474.6h0M1161.2 1695.1h0M1172.3 1438.0h0M1232.3 1436.6h0M1311.9 1556.8h0M1112.7 1514.5h0M1322.0 1518.5h0M1267.8 1463.8h0M1250.9 1359.9h0M1209.7 1636.6h0M1347.7 1372.2h0M1252.1 1670.5h0M1165.6 1680.7h0M1150.5 1465.8h0M1306.2 1311.0h0M1289.5 1579.2h0M1103.4 1392.5h0M1290.5 1591.0h0M1148.4 1525.4h0M1206.1 1690.6h0M1156.2 1681.7h0M1244.5 1342.9h0M1150.3 1660.9h0M1139.0 1486.0h0M1221.0 1656.9h0M1249.0 1423.4h0M1268.2 1417.8h0M1273.3 1353.6h0M1187.5 1579.1h0M1400.6 1343.3h0M1281.9 1667.1h0M1141.1 1640.7h0M1242.8 1349.4h0M1267.7 1586.6h0M1295.4 1654.9h0M1244.3 1362.4h0M1294.8 1163.2h0M1340.0 1428.2h0M1258.0 1475.9h0M1236.4 1695.7h0M1112.1 1505.4h0M1245.9 1630.4h0M1205.7 1572.4h0M1107.8 1268.9h0M1188.8 1645.3h0M1222.3 1694.4h0M1238.5 1421.0h0M1078.6 1566.0h0M1159.4 1510.9h0M1253.5 1235.4h0M1106.5 1252.0h0M1184.2 1625.0h0M1419.8 1229.0h0M1200.2 1607.6h0M1285.3 1346.1h0M1236.3 1453.5h0M1130.0 1525.7h0M1240.9 1694.7h0M1196.3 1707.5h0M1318.6 1270.2h0M1162.5 1532.6h0M1302.3 1483.7h0M1167.2 1567.4h0M1398.8 1380.4h0M1261.1 1172.7h0M1289.8 1622.9h0M1144.1 1458.2h0M1239.0 1576.3h0M1328.4 1171.1h0M1239.9 1353.2h0M1205.3 1668.7h0M1331.5 1617.1h0M1176.6 1636.9h0M1256.9 1498.7h0M1296.2 1099.6h0M1366.1 1608.1h0M1118.7 1239.8h0M1327.3 1374.2h0M1213.4 1724.2h0M1262.6 1497.6h0M1303.1 1591.2h0M1223.4 1711.9h0M1123.0 1526.7h0M1295.8 1471.2h0M1190.0 1708.2h0M1109.7 1485.8h0M1160.2 1394.6h0M1294.7 1366.7h0M1264.3 1286.0h0M1391.6 1590.0h0M1144.0 1496.0h0M1265.7 1568.1h0M1310.1 1271.4h0M1136.1 1519.5h0M1347.4 1518.3h0M1294.5 1260.8h0M1245.1 1195.1h0M1309.5 1576.6h0M1247.6 1427.8h0M1170.6 1714.7h0M1315.2 1462.4h0M1287.3 1519.0h0M1231.0 1587.8h0M1259.7 1569.3h0M1235.4 1586.6h0M1332.1 1247.9h0M1283.8 1254.3h0M1332.6 1506.5h0M1282.4 1214.7h0M1377.1 1490.2h0M1230.2 1640.0h0M1274.5 1195.3h0M1173.9 1657.0h0M1234.4 1493.8h0M1277.4 1249.6h0M1180.9 1375.0h0M1160.7 1475.9h0M1264.5 1651.9h0M1137.6 1369.0h0M1353.0 1544.4h0M1242.3 1512.5h0M1273.9 1212.3h0M1272.3 1618.0h0M1145.8 1577.4h0M1242.7 1710.2h0M1241.5 1590.8h0M1209.9 1573.7h0M1294.0 1377.8h0M1413.1 1434.1h0M1280.6 1164.6h0M1243.2 1507.6h0M1090.0 1209.8h0M1182.8 1506.2h0M1241.3 1525.9h0M1253.8 1485.5h0M1260.8 1226.0h0M1211.9 1601.0h0M1148.9 1387.8h0M1196.4 1727.2h0M1244.7 1183.6h0M1213.2 1652.0h0M1401.9 1360.8h0M1260.6 1383.4h0M1196.0 1480.1h0M1243.7 1455.4h0M1162.6 1677.0h0M1189.9 1550.6h0M1205.8 1726.2h0M1227.9 1694.3h0M1161.9 1605.9h0M1154.6 1637.5h0M1158.9 1556.2h0M1185.1 1476.8h0M1238.2 1386.3h0M1211.8 1571.0h0M1140.1 1664.5h0M1274.7 1540.4h0M1244.5 1690.1h0M1101.3 1202.8h0M1198.4 1530.2h0M1314.3 1342.3h0M1091.5 1611.1h0M1154.1 1485.1h0M1253.0 1058.9h0M1167.8 1497.2h0M1207.5 1571.8h0M1354.8 1563.7h0M1254.9 1457.1h0M1328.5 1574.0h0M1282.8 1126.5h0M1199.0 1657.7h0M1345.1 1541.3h0M1290.6 1481.3h0M1308.3 1336.9h0M1179.8 1320.0h0M1134.9 1600.7h0M1170.4 1540.2h0M1284.9 1326.6h0M1375.1 1591.3h0M1263.3 1333.3h0M1164.0 1511.9h0M1231.6 1712.8h0M1267.5 1429.3h0M1281.3 1181.7h0M1328.5 1500.0h0M1289.0 1337.3h0M1239.3 1405.5h0M1298.9 1228.0h0M1292.2 1653.6h0M1253.4 1188.8h0M1165.8 1639.2h0M1134.3 1522.8h0M1262.0 1482.2h0M1374.8 1557.0h0M1220.2 1704.0h0M1212.0 1592.9h0M1285.0 1493.9h0M1201.6 1511.1h0M1250.7 1315.0h0M1264.8 1550.7h0M1238.6 1674.6h0M1412.6 1231.3h0M1359.4 1548.6h0M1196.1 1691.3h0M1310.4 1385.0h0M1085.7 1473.3h0M1301.2 1567.9h0M1204.4 1629.2h0M1263.8 1457.2h0M1255.7 1358.0h0M1192.4 1682.1h0M1308.1 1623.9h0M1190.4 1694.2h0M1292.3 1488.2h0M1297.3 1307.1h0M1144.3 1531.2h0M1281.3 1276.1h0M1258.2 1243.0h0M1135.4 1401.7h0M1155.5 1491.5h0M1268.9 1242.1h0M1254.0 1505.3h0M1382.5 1521.7h0M1282.2 1222.3h0M1145.6 1399.0h0M1258.2 1214.1h0M1264.8 1490.7h0M1247.8 1373.2h0M1283.6 1628.5h0M1285.9 1401.4h0M1277.3 1531.3h0M1194.0 1466.4h0M1259.1 1299.0h0M1402.4 1375.2h0M1273.1 1081.1h0M1206.3 1646.1h0M1150.6 1444.2h0M1181.1 1725.6h0M1205.2 1544.7h0M1242.6 1637.1h0M1275.6 1327.2h0M1244.4 1135.3h0M1256.4 1625.7h0M1265.4 1394.1h0M1275.7 1600.2h0M1137.4 1591.0h0M1257.4 1225.6h0M1286.2 1574.5h0M1269.9 1195.2h0M1287.7 1604.0h0M1251.4 1668.3h0M1232.1 1341.2h0M1269.6 1395.4h0M1220.9 1743.2h0M1284.8 1252.5h0M1307.1 1212.2h0M1241.1 1620.1h0M1297.4 1186.8h0M1256.6 1438.1h0M1267.2 1267.2h0M1270.4 1466.5h0M1293.7 1531.6h0M1392.0 1403.2h0M1177.7 1678.1h0M1302.5 1207.0h0M1207.7 1634.8h0M1255.3 1207.7h0M1286.5 1507.1h0M1129.2 1592.6h0M1117.0 1366.3h0M1116.4 1215.2h0M1283.8 1373.3h0M1180.3 1502.7h0M1132.2 1544.9h0M1221.4 1730.9h0M1092.0 1524.2h0M1315.0 1322.5h0M1168.8 1412.4h0M1266.9 1372.2h0M1129.8 1574.7h0M1245.2 1607.5h0M1245.2 1289.7h0M1260.3 1434.3h0M1247.4 1573.3h0M1171.7 1442.7h0M1235.4 1455.3h0M1253.4 1334.5h0M1281.1 1304.8h0M1270.9 1365.5h0M1256.2 1223.0h0M1176.8 1315.7h0M1245.2 1460.9h0M1178.8 1308.7h0M1273.5 1531.9h0M1394.8 1556.6h0M1255.3 1052.3h0M1296.2 1567.5h0M1297.1 1410.0h0M1093.2 1371.0h0M1291.6 1175.5h0M1306.3 1666.2h0M1286.7 1612.4h0M1272.1 1466.5h0M1236.8 1677.8h0M1219.5 1725.7h0M1181.0 1583.2h0M1376.3 1288.5h0M1185.9 1631.9h0M1117.0 1543.1h0M1168.7 1610.7h0M1191.7 1649.8h0M1208.7 1650.1h0M1140.3 1460.6h0M1131.3 1539.5h0M1203.2 1738.2h0M1158.6 1456.0h0M1251.2 1589.7h0M1242.6 1241.4h0M1121.5 1484.2h0M1242.3 1710.9h0M1245.5 1721.9h0M1257.3 1431.5h0M1303.6 1592.4h0M1314.8 1577.7h0M1351.8 1185.1h0M1277.0 1405.9h0M1174.5 1530.9h0M1237.4 1306.5h0M1259.6 1287.9h0M1223.9 1740.4h0M1298.9 1017.9h0M1271.3 1618.2h0M1083.2 1525.7h0M1183.6 1498.1h0M1267.0 1211.8h0M1399.4 1485.1h0M1167.4 1397.2h0M1416.4 1303.6h0M1237.6 1597.3h0M1268.3 1485.8h0M1234.0 1518.4h0M1208.1 1551.5h0M1373.8 1215.8h0M1340.4 1626.8h0M1277.1 1446.2h0M1266.2 1221.3h0M1259.6 1384.7h0M1259.2 1498.0h0M1214.7 1589.1h0M1275.8 1078.9h0M1346.0 1434.4h0M1117.7 1520.4h0M1283.2 1240.3h0M1255.3 1328.0h0M1398.5 1293.6h0M1275.0 1279.8h0M1321.9 1240.5h0M1320.7 1561.7h0M1176.6 1573.7h0M1146.0 1405.5h0M1308.2 1376.8h0M1112.8 1196.1h0M1275.1 1321.0h0M1237.2 1252.5h0M1309.5 1579.0h0M1309.2 1175.0h0M1215.1 1597.8h0M1294.9 1049.4h0M1317.5 1588.3h0M1257.8 1597.5h0M1382.5 1640.3h0M1241.5 1475.5h0M1226.4 1720.5h0M1325.6 1287.0h0M1267.6 1414.7h0M1259.1 1671.4h0M1188.2 1734.8h0M1185.9 1726.2h0M1393.7 1629.0h0M1120.8 1478.8h0M1393.0 1433.1h0M1345.7 1503.3h0M1301.4 1553.1h0M1117.8 1301.6h0M1309.2 1091.2h0M1244.7 1538.1h0M1316.8 1498.9h0M1393.9 1408.8h0M1275.9 1657.2h0M1137.1 1608.7h0M1212.7 1642.0h0M1083.8 1462.2h0M1244.8 1183.1h0M1268.7 1337.6h0M1297.8 1288.8h0M1377.4 1338.9h0M1307.5 1231.3h0M1290.8 1355.9h0M1239.2 1222.5h0M1289.4 1410.5h0M1315.2 1358.2h0M1081.0 1571.0h0M1266.8 1310.8h0M1385.9 1248.5h0M1387.7 1406.6h0M1350.3 1306.2h0M1278.3 1362.1h0M1248.4 1228.2h0M1393.4 1183.4h0M1309.6 1438.1h0M1168.1 1569.1h0M1187.5 1591.9h0M1233.4 1354.0h0M1322.3 1442.8h0M1266.6 1479.9h0M1197.7 1584.0h0M1164.0 1699.7h0M1271.9 1151.5h0M1373.0 1348.1h0M1267.1 1455.3h0M1242.2 1562.3h0M1119.4 1355.0h0M1247.6 1612.7h0M1241.5 1169.3h0M1260.1 1403.2h0M1099.8 1413.5h0M1250.0 1368.1h0M1268.2 1523.8h0M1326.0 1571.7h0M1153.8 1542.9h0M1240.9 1548.3h0M1308.8 1327.1h0M1278.5 1672.3h0M1082.9 1458.9h0M1099.4 1433.2h0M1244.8 1634.5h0M1227.5 1705.3h0M1245.6 1596.9h0M1117.7 1219.2h0M1250.4 1206.0h0M1253.7 1317.8h0M1108.8 1434.8h0M1150.5 1631.8h0M1171.9 1326.2h0M1150.9 1260.3h0M1288.8 1338.5h0M1184.9 1453.4h0M1297.0 1491.8h0M1158.2 1578.3h0M1218.7 1700.4h0M1219.6 1718.4h0M1400.8 1392.8h0M1247.7 1732.3h0M1338.1 1469.5h0M1267.3 1515.0h0M1144.9 1507.1h0M1181.5 1568.8h0M1147.8 1619.7h0M1357.7 1517.2h0M1344.7 1239.8h0M1205.0 1518.8h0M1292.7 1642.0h0M1338.5 1436.4h0M1274.7 1448.4h0M1159.4 1633.0h0M1263.2 1461.5h0M1328.4 1383.4h0M1338.3 1397.3h0M1295.6 1120.6h0M1193.2 1493.0h0M1099.8 1457.8h0M1370.4 1556.3h0M1150.8 1459.8h0M1245.6 1474.6h0M1143.1 1485.5h0M1261.8 1471.3h0M1308.5 1323.7h0M1163.7 1557.4h0M1265.0 1208.2h0M1395.7 1418.9h0M1181.9 1543.8h0M1171.5 1682.4h0M1255.3 1080.8h0M1273.2 1450.8h0M1291.7 1451.0h0M1278.2 1221.9h0M1276.9 1216.8h0M1350.8 1568.4h0M1313.1 1258.4h0M1298.5 1181.7h0M1246.4 1460.8h0M1275.4 1257.9h0M1258.0 1452.6h0M1280.0 1391.5h0M1252.9 1675.1h0M1296.6 1482.0h0M1276.0 1668.7h0M1230.7 1671.1h0M1167.7 1697.8h0M1378.3 1350.7h0M1156.5 1635.4h0M1110.3 1293.7h0M1268.1 1396.8h0M1261.4 1651.0h0M1266.4 1562.4h0M1109.2 1489.4h0M1201.9 1524.7h0M1365.7 1340.5h0M1266.6 1012.7h0M1283.4 1261.3h0M1283.8 1512.9h0M1244.2 1301.9h0M1341.1 1463.7h0M1185.8 1582.3h0M1284.4 1363.6h0M1402.3 1624.6h0M1238.2 1223.4h0M1372.8 1505.6h0M1235.0 1629.7h0M1200.8 1604.7h0M1346.4 1656.7h0M1351.5 1389.5h0M1137.7 1530.0h0M1280.3 1301.8h0M1260.6 1474.3h0M1382.7 1593.0h0M1334.3 1504.2h0M1125.3 1304.7h0M1252.3 1666.0h0M1346.7 1472.1h0M1283.0 1496.4h0M1209.4 1702.4h0M1232.4 1309.8h0M1277.9 1231.3h0M1245.4 1193.1h0M1249.5 1239.3h0M1267.9 1654.5h0M1156.1 1402.4h0M1250.1 1627.8h0M1241.1 1520.7h0M1302.7 1628.8h0M1257.4 1415.3h0M1305.9 1447.1h0M1323.1 1256.3h0M1275.8 1444.9h0M1265.9 1522.8h0M1192.9 1673.0h0M1280.7 1214.8h0M1270.6 1652.3h0M1372.3 1498.7h0M1338.6 1579.0h0M1236.7 1454.1h0M1142.5 1665.9h0M1310.0 1026.3h0M1126.5 1475.0h0M1239.8 1593.0h0M1291.5 1400.0h0M1170.4 1524.5h0M1234.3 1445.3h0M1213.7 1655.4h0M1380.6 1385.6h0M1339.4 1536.6h0M1262.1 1438.8h0M1236.7 1404.1h0M1236.0 1371.1h0M1409.4 1316.1h0M1236.7 1406.9h0M1145.7 1569.2h0M1256.8 1079.1h0M1300.6 1251.5h0M1147.9 1677.1h0M1284.3 1547.4h0M1255.1 1234.7h0M1281.8 1673.1h0M1251.0 1364.5h0M1249.6 1196.4h0M1321.1 1381.1h0M1268.8 1428.8h0M1151.3 1601.6h0M1381.1 1482.8h0M1375.5 1418.5h0M1161.2 1691.4h0M1184.2 1649.0h0M1166.6 1616.5h0M1280.5 1603.2h0M1252.0 1582.4h0M1271.2 1418.2h0M1259.6 1694.8h0M1417.6 1368.3h0M1262.0 1173.0h0M1312.2 1347.2h0M1243.3 1149.3h0M1397.7 1204.7h0M1185.6 1359.4h0M1273.1 1659.6h0M1277.8 1180.5h0M1290.3 1475.8h0M1419.5 1431.3h0M1165.1 1476.2h0M1278.8 1656.3h0M1261.5 1564.0h0M1236.5 1619.2h0M1299.5 1088.9h0M1318.4 1438.0h0M1370.1 1368.6h0M1315.9 1293.1h0M1185.2 1468.0h0M1291.8 1646.9h0M1270.7 1334.6h0M1209.6 1741.0h0M1157.4 1356.3h0M1293.5 1310.2h0M1139.9 1571.3h0M1273.4 1482.5h0M1090.4 1216.7h0M1145.7 1398.1h0M1303.0 1185.6h0M1168.0 1678.1h0M1400.6 1232.1h0M1363.5 1468.2h0M1297.3 1275.1h0M1241.8 1533.9h0M1252.2 1686.5h0M1278.7 1340.1h0M1208.9 1661.8h0M1304.0 1348.9h0M1254.8 1494.4h0M1167.0 1693.3h0M1163.0 1480.1h0M1344.9 1468.5h0M1261.4 1567.0h0M1321.0 1516.4h0M1283.4 1356.9h0M1256.5 1637.5h0M1397.4 1499.8h0M1261.9 1437.4h0M1258.7 1220.8h0M1081.8 1446.6h0M1306.7 1188.7h0M1244.8 1219.5h0M1148.8 1369.9h0M1172.9 1624.6h0M1400.5 1387.9h0M1264.4 1388.8h0M1155.9 1457.8h0M1136.8 1595.4h0M1402.7 1474.8h0M1118.6 1411.4h0M1260.8 1680.4h0M1259.8 1266.7h0M1270.7 1096.9h0M1275.0 1460.9h0M1171.3 1645.0h0M1299.1 1271.1h0M1337.5 1478.7h0M1411.9 1282.3h0M1250.1 1325.0h0M1287.2 1504.2h0M1253.1 1580.7h0M1278.5 1354.4h0M1153.5 1483.6h0M1290.6 1355.4h0M1271.5 1528.1h0M1253.5 1497.3h0M1292.8 1613.8h0M1321.4 1496.7h0M1154.1 1295.0h0M1280.8 1627.5h0M1266.8 1579.5h0M1135.3 1471.7h0M1357.2 1393.1h0M1261.5 1230.7h0M1116.8 1461.4h0M1135.3 1559.5h0M1242.5 1257.4h0M1186.9 1718.6h0M1293.6 1525.1h0M1154.2 1445.3h0M1160.5 1623.8h0M1274.3 1279.0h0M1297.5 1401.8h0M1207.0 1599.8h0M1237.2 1635.9h0M1182.6 1629.3h0M1261.2 1001.3h0M1277.5 1558.9h0M1231.3 1597.1h0M1392.4 1306.4h0M1277.1 1008.4h0M1296.1 1547.9h0M1190.2 1588.9h0M1252.9 1382.8h0M1166.6 1441.6h0M1198.6 1710.6h0M1166.7 1679.2h0M1148.1 1658.7h0M1246.6 1284.9h0M1247.0 1616.0h0M1409.5 1246.5h0M1163.8 1333.5h0M1371.9 1634.8h0M1264.4 1714.1h0M1275.4 1208.6h0M1200.5 1696.2h0M1384.9 1353.6h0M1262.5 1491.2h0M1201.6 1636.4h0M1254.1 1704.0h0M1254.0 1630.6h0M1226.1 1738.7h0M1274.7 1203.7h0M1262.0 1599.8h0M1236.4 1685.0h0M1389.0 1565.3h0M1178.6 1643.6h0M1363.8 1417.6h0M1354.5 1378.1h0M1297.4 1298.1h0M1288.8 1650.1h0M1141.4 1461.9h0M1303.4 1175.1h0M1150.3 1497.5h0M1261.4 1303.6h0M1177.7 1597.3h0M1184.8 1629.4h0M1294.1 1460.1h0M1266.1 1304.8h0M1133.8 1507.3h0M1183.6 1418.9h0M1308.0 1463.1h0M1279.1 1558.9h0M1320.9 1246.1h0M1235.3 1687.7h0M1235.7 1399.8h0M1237.8 1519.5h0M1264.0 1327.4h0M1169.6 1503.8h0M1294.0 1223.6h0M1377.3 1488.6h0M1107.2 1263.6h0M1271.7 1343.1h0M1284.9 1457.8h0M1265.3 1517.3h0M1276.0 1449.7h0M1397.6 1620.3h0M1255.4 1469.1h0M1266.7 1178.3h0M1243.0 1736.4h0M1309.3 1382.2h0M1262.8 1659.7h0M1249.9 1058.7h0M1191.2 1375.5h0M1245.5 1265.8h0M1185.4 1421.0h0M1265.7 1435.0h0M1235.8 1682.4h0M1101.3 1402.9h0M1214.9 1646.0h0M1233.2 1495.7h0M1275.1 1351.6h0M1162.0 1575.8h0M1298.6 1316.7h0M1260.9 1333.3h0M1248.3 1567.4h0M1240.3 1631.9h0M1279.9 1355.9h0M1297.4 1190.1h0M1269.0 1659.1h0M1258.9 1198.3h0M1261.8 1448.4h0M1180.4 1675.7h0M1079.3 1560.0h0M1274.3 1130.7h0M1190.9 1388.8h0M1293.3 1464.8h0M1416.8 1346.5h0M1265.9 1240.1h0M1297.0 1537.3h0M1233.1 1626.2h0M1383.2 1636.9h0M1140.1 1540.6h0M1238.1 1218.6h0M1124.1 1204.9h0M1073.1 1230.7h0M1372.9 1306.0h0M1286.6 1605.7h0M1291.2 1310.7h0M1254.9 1567.5h0M1300.5 1429.8h0M1250.2 1437.2h0M1157.8 1444.6h0M1274.8 1306.6h0M1291.2 1369.7h0M1282.0 1449.8h0M1162.7 1650.6h0M1157.3 1514.5h0M1282.2 1169.8h0M1236.7 1398.8h0M1158.7 1409.8h0M1263.9 1549.8h0M1172.0 1556.6h0M1201.0 1569.9h0M1259.6 1281.0h0M1294.4 1247.2h0M1249.0 1308.0h0M1273.3 1535.9h0M1153.9 1667.7h0M1182.2 1522.6h0M1285.0 1463.7h0M1233.7 1436.7h0M1267.6 1079.9h0M1289.3 1244.4h0" stroke="#BEBEBE" stroke-width="17" stroke-linecap="round" fill="none"/>
<path d="M492.5 422.0h0M666.5 418.5h0M874.5 378.0h0M850.0 467.5h0M956.0 457.5h0M857.0 556.5h0M906.5 547.5h0M494.0 676.0h0M670.0 683.5h0M709.0 685.0h0M714.0 686.0h0M782.5 676.5h0M762.5 700.0h0M916.5 674.5h0M610.0 764.5h0M615.0 764.5h0M702.0 771.0h0M702.0 785.0h0M815.0 783.5h0M925.0 762.5h0M919.5 828.5h0M976.5 854.0h0M802.0 894.0h0M838.0 899.0h0M864.5 885.5h0M885.5 885.5h0M783.5 918.5h0M914.0 932.5h0M792.5 940.0h0M805.0 945.0h0M817.5 943.0h0M796.0 957.5h0M858.5 945.0h0M862.0 952.5h0M666.5 948.5h0M596.0 953.0h0M575.5 970.5h0M979.5 967.5h0M870.0 980.0h0M462.5 1038.0h0M896.0 1020.0h0M927.5 1009.0h0M935.0 1020.0h0M959.0 1022.5h0M883.0 1039.0h0M901.0 1055.0h0M917.0 1069.0h0M968.5 1045.0h0M988.5 1045.0h0M966.5 1052.5h0M974.0 1066.5h0M818.0 1057.5h0M648.0 1071.5h0M653.5 1072.0h0M712.5 1086.0h0M878.0 1116.0h0M909.0 1126.0h0M903.0 1144.0h0M838.5 1135.0h0M859.0 1141.0h0M976.5 1124.0h0M968.5 1135.0h0M985.0 1135.0h0M996.0 1138.5h0M543.5 1149.5h0M561.0 1157.0h0M451.5 1165.5h0M620.5 1170.5h0M741.0 1156.5h0M830.0 1185.0h0M854.0 1187.5h0M929.0 1187.5h0M962.5 1196.5h0M883.0 1218.0h0M893.0 1245.0h0M914.0 1252.5h0M953.0 1245.0h0M969.0 1253.5h0M919.5 1270.0h0M732.5 1275.0h0M901.0 1294.0h0M912.5 1300.0h0M920.0 1300.0h0M953.5 1311.0h0" stroke="#0000FF" stroke-width="17.8" stroke-linecap="round" fill="none"/>
<path d="M2048.5 400.5h0M1669.5 641.5h0M1703.5 677.0h0M1583.0 688.0h0M1596.5 699.5h0M1552.0 704.5h0M1439.5 713.0h0M1724.5 789.5h0M1648.5 839.0h0M1585.5 844.0h0M1591.0 872.0h0M1747.5 864.0h0M1792.0 866.5h0M1827.5 863.0h0M1834.5 863.5h0M1444.5 880.0h0M1606.5 913.0h0M1442.5 918.5h0M1463.0 929.0h0M1687.5 935.0h0M1447.5 951.5h0M1439.0 956.5h0M1538.5 965.0h0M1617.0 962.5h0M1450.0 981.5h0M1585.0 986.5h0M1859.0 984.0h0M1614.0 995.0h0M1439.5 1001.0h0M1654.0 1002.5h0M1651.0 1015.0h0M1517.5 1017.5h0M1679.5 1072.5h0M1753.0 1077.5h0M1559.5 1083.5h0M1625.0 1083.5h0M1442.0 1088.5h0M1513.0 1091.0h0M1496.5 1102.5h0M1648.5 1111.0h0M1635.0 1116.5h0M1445.0 1121.5h0M1455.0 1121.5h0M1551.0 1121.0h0M1557.5 1125.0h0M1806.0 1125.0h0M1475.5 1146.0h0M1513.0 1152.0h0M1611.5 1149.0h0M1635.0 1146.0h0M1654.0 1157.5h0M1434.0 1171.0h0M1447.0 1193.5h0M1517.5 1190.0h0M1567.5 1190.0h0M1629.5 1196.0h0M1711.0 1185.0h0M1512.5 1217.5h0M1480.0 1220.0h0M1487.0 1223.5h0M1455.0 1240.0h0M1483.5 1251.0h0M1523.0 1248.0h0M1455.0 1265.0h0M1559.0 1277.5h0M1565.0 1292.5h0M1434.0 1288.5h0M1708.5 1281.0h0M1661.5 1292.0h0M1504.0 1305.5h0M1523.0 1311.5h0M1541.5 1316.0h0M1611.5 1316.0h0M2078.0 1093.0h0" stroke="#FF0000" stroke-width="17.8" stroke-linecap="round" fill="none"/>
<g stroke="#333" fill="none">
<path d="M368.3 22V1822.2" stroke-width="4.6"/>
<path d="M366 1820H2163" stroke-width="4.6"/>
<path d="M353 1735.6H368M353 1578.3H368M353 1421.0H368M353 1263.7H368M353 1106.4H368M353 949.1H368M353 791.8H368M353 634.5H368M353 477.2H368M353 319.9H368M353 162.6H368M562.6 1820V1838M780.4 1820V1838M998.2 1820V1838M1216.0 1820V1838M1433.8 1820V1838M1651.6 1820V1838M1869.4 1820V1838M2087.2 1820V1838" stroke-width="3"/>
</g>
<g font-family="'Liberation Sans',sans-serif" font-weight="bold" font-size="41" fill="#1c1c1c" text-anchor="middle">
<text x="558.1" y="1925.5">-6</text>
<text x="775.9" y="1925.5">-4</text>
<text x="993.7" y="1925.5">-2</text>
<text x="1215.0" y="1925.5">0</text>
<text x="1432.8" y="1925.5">2</text>
<text x="1650.6" y="1925.5">4</text>
<text x="1868.4" y="1925.5">6</text>
<text x="2086.2" y="1925.5">8</text>
<text transform="translate(218.5,1734.0) rotate(-90)">0</text>
<text transform="translate(218.5,1584.5) rotate(-90)">0.5</text>
<text transform="translate(218.5,1424.5) rotate(-90)">1</text>
<text transform="translate(218.5,1268.0) rotate(-90)">1.5</text>
<text transform="translate(218.5,1107.5) rotate(-90)">2</text>
<text transform="translate(218.5,951.5) rotate(-90)">2.5</text>
<text transform="translate(218.5,782.0) rotate(-90)">3</text>
<text transform="translate(218.5,622.0) rotate(-90)">3.5</text>
<text transform="translate(218.5,482.5) rotate(-90)">4</text>
<text transform="translate(218.5,314.0) rotate(-90)">4.5</text>
<text transform="translate(218.5,148.0) rotate(-90)">5</text>
</g>
<g font-family="'Liberation Serif',serif" font-weight="bold" fill="#151515">
<text x="1089.5" y="1991" font-size="46.5" textLength="370" lengthAdjust="spacingAndGlyphs">Fold change (log2)</text>
<text transform="translate(154.5,1239.5) rotate(-90)" font-size="48" textLength="514" lengthAdjust="spacingAndGlyphs">adjusted p-value (-log10)</text>
</g>
</g><g font-family="'Liberation Serif',serif" fill="#000" text-anchor="middle" font-size="75">
<text x="1153.3" y="2141" font-size="82">(<tspan font-weight="bold">A</tspan>)</text>
<text x="1153" y="4499" font-size="82">(<tspan font-weight="bold">B</tspan>)</text>
</g>
<rect x="0" y="2189" width="2301" height="3" fill="#f6f6f6"/>
<g id="treemap">
<rect x="141" y="2237" width="2115" height="2114" fill="#0064C0"/>
<g stroke="#000" stroke-width="3.6" stroke-linejoin="round">
<polygon points="141.0,2237.0 310.5,2237.0 299.4,2383.0 141.0,2384.9" fill="#0078C4"/>
<polygon points="310.5,2237.0 452.8,2237.0 468.3,2375.4 449.6,2402.0 319.7,2404.8 299.4,2383.0" fill="#0050BC"/>
<polygon points="452.8,2237.0 650.2,2237.0 629.9,2369.8 468.3,2375.4" fill="#FF8000"/>
<polygon points="650.2,2237.0 780.7,2237.0 795.4,2387.9 754.7,2424.2 667.5,2420.2 629.9,2369.8" fill="#008CC8"/>
<polygon points="780.7,2237.0 948.2,2237.0 951.2,2380.8 932.7,2399.4 795.4,2387.9" fill="#008CC8"/>
<polygon points="948.2,2237.0 1126.0,2237.0 1113.5,2393.3 951.2,2380.8" fill="#0078C4"/>
<polygon points="141.0,2534.7 141.0,2384.9 299.4,2383.0 319.7,2404.8 291.4,2540.9" fill="#0064C0"/>
<polygon points="291.4,2540.9 319.7,2404.8 449.6,2402.0 479.9,2519.3 440.6,2582.7 319.1,2576.1" fill="#FF6C00"/>
<polygon points="479.9,2519.3 449.6,2402.0 468.3,2375.4 629.9,2369.8 667.5,2420.2 614.9,2524.9" fill="#F85C00"/>
<polygon points="654.9,2609.6 614.9,2524.9 667.5,2420.2 754.7,2424.2 798.1,2567.2 756.7,2611.3" fill="#0050BC"/>
<polygon points="798.1,2567.2 754.7,2424.2 795.4,2387.9 932.7,2399.4 942.6,2539.9 915.5,2567.7" fill="#0064C0"/>
<polygon points="1113.5,2393.3 1100.6,2555.3 942.6,2539.9 932.7,2399.4 951.2,2380.8" fill="#0000A8"/>
<polygon points="141.0,2699.4 141.0,2534.7 291.4,2540.9 319.1,2576.1 279.3,2695.3" fill="#0020B4"/>
<polygon points="320.5,2750.0 279.3,2695.3 319.1,2576.1 440.6,2582.7 475.2,2669.9 434.8,2752.4" fill="#008CC8"/>
<polygon points="475.2,2669.9 440.6,2582.7 479.9,2519.3 614.9,2524.9 654.9,2609.6 607.7,2677.6" fill="#F85C00"/>
<polygon points="640.9,2793.4 607.7,2677.6 654.9,2609.6 756.7,2611.3 798.8,2744.3 758.7,2790.0" fill="#0078C4"/>
<polygon points="798.8,2744.3 756.7,2611.3 798.1,2567.2 915.5,2567.7 940.7,2702.4 902.6,2744.6" fill="#0064C0"/>
<polygon points="1100.6,2555.3 1088.0,2713.6 940.7,2702.4 915.5,2567.7 942.6,2539.9" fill="#FF6C00"/>
<polygon points="266.4,2878.0 141.0,2833.0 141.0,2699.4 279.3,2695.3 320.5,2750.0" fill="#008CC8"/>
<polygon points="435.0,2938.4 266.4,2878.0 320.5,2750.0 434.8,2752.4 474.8,2832.6" fill="#0020B4"/>
<polygon points="474.8,2832.6 434.8,2752.4 475.2,2669.9 607.7,2677.6 640.9,2793.4 618.9,2822.2" fill="#F85C00"/>
<polygon points="812.1,2949.0 648.7,2993.8 618.9,2822.2 640.9,2793.4 758.7,2790.0" fill="#0020B4"/>
<polygon points="955.5,2909.7 812.1,2949.0 758.7,2790.0 798.8,2744.3 902.6,2744.6" fill="#008CC8"/>
<polygon points="1088.0,2713.6 1075.0,2877.0 955.5,2909.7 902.6,2744.6 940.7,2702.4" fill="#FF8000"/>
<polygon points="648.7,2993.8 615.0,3003.0 435.0,2938.4 474.8,2832.6 618.9,2822.2" fill="#008CC8"/>
<polygon points="141.0,2833.0 318.0,2896.5 269.7,3030.0 141.0,3036.5" fill="#F85C00"/>
<polygon points="318.0,2896.5 472.7,2952.0 429.3,3090.4 310.6,3090.4 269.7,3030.0" fill="#EE4800"/>
<polygon points="472.7,2952.0 615.0,3003.0 616.5,3139.7 470.6,3150.0 429.3,3090.4" fill="#FF8000"/>
<polygon points="141.0,3206.2 141.0,3036.5 269.7,3030.0 310.6,3090.4 268.0,3206.2" fill="#000CB0"/>
<polygon points="268.0,3206.2 310.6,3090.4 429.3,3090.4 470.6,3150.0 436.7,3262.3 311.2,3258.6" fill="#FF6C00"/>
<polygon points="616.5,3139.7 618.4,3310.9 468.3,3307.5 436.7,3262.3 470.6,3150.0" fill="#E63800"/>
<polygon points="141.0,3382.6 141.0,3206.2 268.0,3206.2 311.2,3258.6 269.5,3386.0" fill="#F85C00"/>
<polygon points="269.5,3386.0 311.2,3258.6 436.7,3262.3 468.3,3307.5 435.2,3430.7 307.8,3435.8" fill="#008CC8"/>
<polygon points="618.4,3310.9 620.1,3470.9 465.1,3471.8 435.2,3430.7 468.3,3307.5" fill="#000CB0"/>
<polygon points="264.5,3574.9 141.0,3552.0 141.0,3382.6 269.5,3386.0 307.8,3435.8" fill="#0078C4"/>
<polygon points="441.7,3607.6 264.5,3574.9 307.8,3435.8 435.2,3430.7 465.1,3471.8" fill="#008CC8"/>
<polygon points="620.1,3470.9 622.0,3641.0 441.7,3607.6 465.1,3471.8" fill="#0020B4"/>
<polygon points="615.0,3003.0 746.0,2967.1 795.8,3138.3 768.8,3158.1 616.7,3158.3" fill="#0064C0"/>
<polygon points="746.0,2967.1 878.6,2930.8 934.7,3064.4 869.5,3137.4 795.8,3138.3" fill="#003CB8"/>
<polygon points="878.6,2930.8 1075.0,2877.0 1057.6,3071.2 934.7,3064.4" fill="#0064C0"/>
<polygon points="618.9,3356.7 616.7,3158.3 768.8,3158.1 766.0,3328.0" fill="#008CC8"/>
<polygon points="766.0,3328.0 768.8,3158.1 795.8,3138.3 869.5,3137.4 934.3,3253.2 834.2,3363.2" fill="#EE4800"/>
<polygon points="1057.6,3071.2 1040.5,3261.9 934.3,3253.2 869.5,3137.4 934.7,3064.4" fill="#008CC8"/>
<polygon points="1040.5,3261.9 1022.9,3458.1 839.4,3381.6 834.2,3363.2 934.3,3253.2" fill="#0064C0"/>
<polygon points="619.9,3451.5 618.9,3356.7 766.0,3328.0 834.2,3363.2 839.4,3381.6 791.2,3478.0" fill="#003CB8"/>
<polygon points="1022.9,3458.1 1018.0,3513.0 821.6,3583.8 791.2,3478.0 839.4,3381.6" fill="#0020B4"/>
<polygon points="821.6,3583.8 646.0,3647.0 622.0,3641.0 619.9,3451.5 791.2,3478.0" fill="#008CC8"/>
<polygon points="1126.0,2237.0 1337.0,2237.0 1362.4,2314.8 1253.2,2377.5 1119.2,2332.2" fill="#008CC8"/>
<polygon points="1105.4,2524.6 1119.2,2332.2 1253.2,2377.5 1258.3,2534.4" fill="#FF8000"/>
<polygon points="1362.4,2314.8 1423.0,2501.0 1277.9,2551.2 1258.3,2534.4 1253.2,2377.5" fill="#E02800"/>
<polygon points="1094.1,2682.3 1105.4,2524.6 1258.3,2534.4 1277.9,2551.2 1279.8,2647.0 1228.8,2702.8" fill="#0078C4"/>
<polygon points="1423.0,2501.0 1478.0,2670.0 1447.3,2723.1 1279.8,2647.0 1277.9,2551.2" fill="#0064C0"/>
<polygon points="1246.2,2843.3 1080.0,2880.0 1094.1,2682.3 1228.8,2702.8" fill="#FF8000"/>
<polygon points="1447.3,2723.1 1397.0,2810.0 1246.2,2843.3 1228.8,2702.8 1279.8,2647.0" fill="#0078C4"/>
<polygon points="1337.0,2237.0 1522.9,2237.0 1524.5,2368.5 1396.7,2420.5" fill="#F85C00"/>
<polygon points="1522.9,2237.0 1693.4,2237.0 1693.4,2359.3 1592.0,2411.0 1524.5,2368.5" fill="#008CC8"/>
<polygon points="1693.4,2237.0 1839.0,2237.0 1910.1,2287.8 1786.5,2416.3 1693.4,2359.3" fill="#F85C00"/>
<polygon points="1910.1,2287.8 2000.0,2352.0 1876.9,2532.7 1800.1,2474.5 1786.5,2416.3" fill="#FF6C00"/>
<polygon points="1448.4,2579.0 1396.7,2420.5 1524.5,2368.5 1592.0,2411.0 1595.5,2506.9" fill="#EE4800"/>
<polygon points="1660.7,2555.9 1595.5,2506.9 1592.0,2411.0 1693.4,2359.3 1786.5,2416.3 1800.1,2474.5" fill="#008CC8"/>
<polygon points="1673.8,2667.5 1478.0,2670.0 1448.4,2579.0 1595.5,2506.9 1660.7,2555.9" fill="#F85C00"/>
<polygon points="1876.9,2532.7 1786.0,2666.0 1673.8,2667.5 1660.7,2555.9 1800.1,2474.5" fill="#F85C00"/>
<polygon points="1839.0,2237.0 2112.8,2237.0 2092.9,2412.5 2090.0,2416.4" fill="#EE4800"/>
<polygon points="2112.8,2237.0 2256.0,2237.0 2256.0,2385.1 2092.9,2412.5" fill="#008CC8"/>
<polygon points="2256.0,2385.1 2256.0,2535.0 2090.0,2416.4 2092.9,2412.5" fill="#0078C4"/>
<polygon points="2000.0,2352.0 2165.7,2470.4 2068.1,2587.7 1924.4,2462.9" fill="#0078C4"/>
<polygon points="1818.6,2618.1 1924.4,2462.9 2068.1,2587.7 2068.5,2597.9 1960.7,2681.8" fill="#008CC8"/>
<polygon points="2165.7,2470.4 2256.0,2535.0 2256.0,2675.4 2150.4,2686.4 2068.5,2597.9 2068.1,2587.7" fill="#0000A8"/>
<polygon points="1839.8,2836.8 1786.0,2666.0 1818.6,2618.1 1960.7,2681.8 1973.7,2802.1" fill="#0078C4"/>
<polygon points="1973.7,2802.1 1960.7,2681.8 2068.5,2597.9 2150.4,2686.4 2101.5,2782.5 1995.3,2814.2" fill="#0050BC"/>
<polygon points="2256.0,2675.4 2256.0,2887.0 2211.5,2908.1 2101.5,2782.5 2150.4,2686.4" fill="#FF8000"/>
<polygon points="2014.3,2994.5 1888.0,2990.0 1839.8,2836.8 1973.7,2802.1 1995.3,2814.2" fill="#0050BC"/>
<polygon points="2211.5,2908.1 2028.0,2995.0 2014.3,2994.5 1995.3,2814.2 2101.5,2782.5" fill="#0020B4"/>
<polygon points="2028.0,2995.0 2256.0,2887.0 2256.0,3110.0" fill="#E63800"/>
<polygon points="1478.0,2670.0 1606.5,2668.3 1613.2,2750.2 1515.8,2874.0 1397.0,2810.0" fill="#0078C4"/>
<polygon points="1606.5,2668.3 1786.0,2666.0 1832.4,2813.4 1745.2,2842.4 1613.2,2750.2" fill="#008CC8"/>
<polygon points="1682.8,2963.9 1515.8,2874.0 1613.2,2750.2 1745.2,2842.4" fill="#008CC8"/>
<polygon points="1832.4,2813.4 1888.0,2990.0 1815.0,3035.0 1682.8,2963.9 1745.2,2842.4" fill="#FF8000"/>
<polygon points="1080.0,2880.0 1216.0,2850.0 1244.3,2962.2 1182.4,3045.3 1064.9,3034.4" fill="#EE4800"/>
<polygon points="1216.0,2850.0 1397.0,2810.0 1422.4,2823.7 1370.1,2996.6 1244.3,2962.2" fill="#0078C4"/>
<polygon points="1422.4,2823.7 1575.7,2906.2 1501.3,3038.0 1388.9,3022.8 1370.1,2996.6" fill="#EE4800"/>
<polygon points="1182.4,3045.3 1244.3,2962.2 1370.1,2996.6 1388.9,3022.8 1338.7,3150.6 1220.2,3137.3" fill="#0050BC"/>
<polygon points="1575.7,2906.2 1720.4,2984.1 1632.9,3118.4 1537.8,3102.9 1501.3,3038.0" fill="#0050BC"/>
<polygon points="1720.4,2984.1 1815.0,3035.0 1799.8,3205.8 1679.0,3194.3 1632.9,3118.4" fill="#E63800"/>
<polygon points="1047.2,3214.6 1064.9,3034.4 1182.4,3045.3 1220.2,3137.3 1166.5,3223.8" fill="#F85C00"/>
<polygon points="1338.7,3150.6 1388.9,3022.8 1501.3,3038.0 1537.8,3102.9 1474.3,3214.8 1371.1,3202.2" fill="#FF6C00"/>
<polygon points="1474.3,3214.8 1537.8,3102.9 1632.9,3118.4 1679.0,3194.3 1613.5,3293.0 1516.0,3283.2" fill="#0050BC"/>
<polygon points="1799.8,3205.8 1783.5,3388.7 1661.5,3377.4 1613.5,3293.0 1679.0,3194.3" fill="#E02800"/>
<polygon points="1166.5,3223.8 1220.2,3137.3 1338.7,3150.6 1371.1,3202.2 1309.4,3314.3 1212.3,3304.7" fill="#FF6C00"/>
<polygon points="1029.1,3399.7 1047.2,3214.6 1166.5,3223.8 1212.3,3304.7 1153.8,3396.8" fill="#0064C0"/>
<polygon points="1309.4,3314.3 1371.1,3202.2 1474.3,3214.8 1516.0,3283.2 1454.5,3395.5 1356.9,3386.5" fill="#E02800"/>
<polygon points="1213.3,3503.7 1153.8,3396.8 1212.3,3304.7 1309.4,3314.3 1356.9,3386.5 1297.4,3495.6" fill="#0078C4"/>
<polygon points="1497.2,3463.0 1454.5,3395.5 1516.0,3283.2 1613.5,3293.0 1661.5,3377.4 1595.0,3471.5" fill="#EE4800"/>
<polygon points="1152.3,3598.0 1018.0,3513.0 1029.1,3399.7 1153.8,3396.8 1213.3,3503.7" fill="#0050BC"/>
<polygon points="1380.5,3598.4 1297.4,3495.6 1356.9,3386.5 1454.5,3395.5 1497.2,3463.0 1434.6,3586.5" fill="#C80000"/>
<polygon points="1316.8,3702.1 1152.3,3598.0 1213.3,3503.7 1297.4,3495.6 1380.5,3598.4" fill="#FF8000"/>
<polygon points="1548.1,3674.2 1434.6,3586.5 1497.2,3463.0 1595.0,3471.5 1635.9,3550.0" fill="#FF8000"/>
<polygon points="1563.3,3734.1 1413.0,3763.0 1316.8,3702.1 1380.5,3598.4 1434.6,3586.5 1548.1,3674.2" fill="#FF6C00"/>
<polygon points="1765.9,3585.9 1756.0,3697.0 1563.3,3734.1 1548.1,3674.2 1635.9,3550.0" fill="#FF6C00"/>
<polygon points="1783.5,3388.7 1765.9,3585.9 1635.9,3550.0 1595.0,3471.5 1661.5,3377.4" fill="#F85C00"/>
<polygon points="1815.0,3035.0 1888.0,2990.0 1955.8,2992.4 1962.4,3166.6 1940.8,3187.8 1802.4,3176.8" fill="#FF6C00"/>
<polygon points="1955.8,2992.4 2028.0,2995.0 2160.1,3061.6 2090.2,3175.1 1962.4,3166.6" fill="#0078C4"/>
<polygon points="2160.1,3061.6 2256.0,3110.0 2256.0,3267.5 2133.4,3268.0 2090.2,3175.1" fill="#E63800"/>
<polygon points="1786.7,3352.4 1802.4,3176.8 1940.8,3187.8 1957.1,3331.5 1933.8,3357.9" fill="#FF8000"/>
<polygon points="1957.1,3331.5 1940.8,3187.8 1962.4,3166.6 2090.2,3175.1 2133.4,3268.0 2089.7,3334.6" fill="#FF9000"/>
<polygon points="2256.0,3267.5 2256.0,3444.2 2128.4,3438.1 2089.7,3334.6 2133.4,3268.0" fill="#FF6C00"/>
<polygon points="1772.8,3508.6 1786.7,3352.4 1933.8,3357.9 1952.8,3484.5 1918.0,3526.8" fill="#0078C4"/>
<polygon points="1952.8,3484.5 1933.8,3357.9 1957.1,3331.5 2089.7,3334.6 2128.4,3438.1 2085.2,3496.2" fill="#0078C4"/>
<polygon points="2256.0,3444.2 2256.0,3604.0 2117.6,3629.7 2085.2,3496.2 2128.4,3438.1" fill="#0064C0"/>
<polygon points="2117.6,3629.7 1941.3,3662.5 1918.0,3526.8 1952.8,3484.5 2085.2,3496.2" fill="#FF8000"/>
<polygon points="1941.3,3662.5 1756.0,3697.0 1772.8,3508.6 1918.0,3526.8" fill="#0078C4"/>
<polygon points="141.0,3552.0 312.6,3584.3 276.7,3740.8 141.0,3741.9" fill="#0078C4"/>
<polygon points="312.6,3584.3 454.7,3611.0 444.2,3759.3 421.2,3786.0 311.5,3783.5 276.7,3740.8" fill="#008CC8"/>
<polygon points="454.7,3611.0 646.0,3647.0 646.0,3787.9 444.2,3759.3" fill="#0050BC"/>
<polygon points="256.2,3938.1 141.0,3907.0 141.0,3741.9 276.7,3740.8 311.5,3783.5" fill="#0078C4"/>
<polygon points="455.4,3943.1 382.0,3972.0 256.2,3938.1 311.5,3783.5 421.2,3786.0" fill="#FF8000"/>
<polygon points="646.0,3787.9 646.0,3868.0 455.4,3943.1 421.2,3786.0 444.2,3759.3" fill="#0064C0"/>
<polygon points="141.0,3907.0 305.6,3951.4 219.8,4130.2 141.0,4130.0" fill="#FF8000"/>
<polygon points="305.6,3951.4 382.0,3972.0 396.6,4169.7 272.5,4174.5 219.8,4130.2" fill="#EE4800"/>
<polygon points="240.0,4351.0 141.0,4351.0 141.0,4130.0 219.8,4130.2 272.5,4174.5" fill="#0064C0"/>
<polygon points="396.6,4169.7 410.0,4351.0 240.0,4351.0 272.5,4174.5" fill="#FF8000"/>
<polygon points="382.0,3972.0 447.2,3946.3 552.3,4080.4 462.9,4192.0 399.3,4206.0" fill="#EE4800"/>
<polygon points="447.2,3946.3 646.0,3868.0 646.0,4079.8 552.3,4080.4" fill="#FF8000"/>
<polygon points="646.0,4079.8 646.0,4275.6 462.9,4192.0 552.3,4080.4" fill="#FF9000"/>
<polygon points="646.0,4275.6 646.0,4351.0 410.0,4351.0 399.3,4206.0 462.9,4192.0" fill="#0064C0"/>
<polygon points="646.0,3647.0 815.6,3585.9 855.8,3729.0 813.4,3770.5 646.0,3745.6" fill="#0078C4"/>
<polygon points="815.6,3585.9 970.8,3530.0 1002.3,3733.6 969.3,3757.6 855.8,3729.0" fill="#FF6C00"/>
<polygon points="970.8,3530.0 1018.0,3513.0 1173.1,3612.7 1085.8,3731.4 1002.3,3733.6" fill="#008CC8"/>
<polygon points="1173.1,3612.7 1273.0,3677.0 1263.3,3820.4 1144.3,3823.1 1085.8,3731.4" fill="#C80000"/>
<polygon points="646.0,3940.3 646.0,3745.6 813.4,3770.5 818.5,3892.4" fill="#0020B4"/>
<polygon points="818.5,3892.4 813.4,3770.5 855.8,3729.0 969.3,3757.6 971.4,3910.4 857.1,3922.9" fill="#003CB8"/>
<polygon points="971.4,3910.4 969.3,3757.6 1002.3,3733.6 1085.8,3731.4 1144.3,3823.1 1072.8,3942.7 1021.2,3954.9" fill="#0078C4"/>
<polygon points="1263.3,3820.4 1252.0,3988.0 1212.9,4047.6 1072.8,3942.7 1144.3,3823.1" fill="#0064C0"/>
<polygon points="823.6,4064.7 646.0,4002.0 646.0,3940.3 818.5,3892.4 857.1,3922.9" fill="#0078C4"/>
<polygon points="989.8,4123.4 823.6,4064.7 857.1,3922.9 971.4,3910.4 1021.2,3954.9" fill="#008CC8"/>
<polygon points="1212.9,4047.6 1195.0,4075.0 1037.0,4140.0 989.8,4123.4 1021.2,3954.9 1072.8,3942.7" fill="#F85C00"/>
<polygon points="1273.0,3677.0 1413.0,3763.0 1410.3,3809.8 1263.5,3818.0" fill="#0078C4"/>
<polygon points="1410.3,3809.8 1399.0,4003.0 1252.0,3988.0 1263.5,3818.0" fill="#0064C0"/>
<polygon points="1252.0,3988.0 1399.0,4003.0 1394.0,4143.0 1270.0,4151.0 1195.0,4075.0" fill="#FF8000"/>
<polygon points="1270.0,4151.0 1394.0,4143.0 1390.0,4351.0 1248.0,4351.0" fill="#EE4800"/>
<polygon points="1037.0,4140.0 1195.0,4075.0 1270.0,4151.0 1260.4,4238.2 1033.0,4224.6" fill="#0064C0"/>
<polygon points="1260.4,4238.2 1248.0,4351.0 1027.0,4351.0 1033.0,4224.6" fill="#0078C4"/>
<polygon points="646.0,4002.0 842.5,4071.3 800.0,4175.8 646.0,4209.6" fill="#000CB0"/>
<polygon points="842.5,4071.3 1037.0,4140.0 1034.6,4190.2 835.5,4249.9 800.0,4175.8" fill="#FF8000"/>
<polygon points="829.9,4351.0 646.0,4351.0 646.0,4209.6 800.0,4175.8 835.5,4249.9" fill="#FF9000"/>
<polygon points="1034.6,4190.2 1027.0,4351.0 829.9,4351.0 835.5,4249.9" fill="#008CC8"/>
<polygon points="1413.0,3763.0 1531.6,3741.0 1577.6,3881.4 1540.6,3946.9 1406.2,3939.6" fill="#0050BC"/>
<polygon points="1531.6,3741.0 1708.4,3708.2 1736.6,3879.1 1577.6,3881.4" fill="#003CB8"/>
<polygon points="1708.4,3708.2 1855.0,3681.0 1914.6,3799.2 1749.9,3889.7 1736.6,3879.1" fill="#008CC8"/>
<polygon points="1455.6,4171.8 1398.0,4152.0 1406.2,3939.6 1540.6,3946.9 1569.5,4013.9" fill="#FF9000"/>
<polygon points="1688.9,4061.4 1569.5,4013.9 1540.6,3946.9 1577.6,3881.4 1736.6,3879.1 1749.9,3889.7 1757.8,3932.2" fill="#008CC8"/>
<polygon points="1627.2,4230.9 1455.6,4171.8 1569.5,4013.9 1688.9,4061.4 1691.7,4069.0" fill="#0064C0"/>
<polygon points="1918.0,4013.9 1841.7,4151.0 1691.7,4069.0 1688.9,4061.4 1757.8,3932.2" fill="#0078C4"/>
<polygon points="1841.7,4151.0 1770.0,4280.0 1627.2,4230.9 1691.7,4069.0" fill="#EE4800"/>
<polygon points="1914.6,3799.2 1973.0,3915.0 1918.0,4013.9 1757.8,3932.2 1749.9,3889.7" fill="#E02800"/>
<polygon points="1855.0,3681.0 2080.9,3637.6 2117.9,3738.6 1931.1,3831.9" fill="#FF6C00"/>
<polygon points="2080.9,3637.6 2256.0,3604.0 2256.0,3770.0 2200.0,3812.0 2117.9,3738.6" fill="#0078C4"/>
<polygon points="2200.0,3812.0 2060.0,3917.0 1973.0,3915.0 1931.1,3831.9 2117.9,3738.6" fill="#0078C4"/>
<polygon points="2060.0,3917.0 2256.0,3770.0 2256.0,4030.0" fill="#0000A8"/>
<polygon points="1973.0,3915.0 2060.0,3917.0 2161.0,3975.2 2069.6,4110.1 1919.9,4010.5" fill="#FF6C00"/>
<polygon points="1846.6,4142.3 1919.9,4010.5 2069.6,4110.1 2076.8,4153.0 1953.2,4225.1" fill="#003CB8"/>
<polygon points="2161.0,3975.2 2256.0,4030.0 2256.0,4170.4 2111.8,4179.7 2076.8,4153.0 2069.6,4110.1" fill="#008CC8"/>
<polygon points="1955.6,4351.0 1784.0,4351.0 1770.0,4280.0 1846.6,4142.3 1953.2,4225.1" fill="#FF9000"/>
<polygon points="2115.5,4351.0 1955.6,4351.0 1953.2,4225.1 2076.8,4153.0 2111.8,4179.7" fill="#FF8000"/>
<polygon points="2256.0,4170.4 2256.0,4351.0 2115.5,4351.0 2111.8,4179.7" fill="#FF6C00"/>
<polygon points="1398.0,4152.0 1554.1,4205.7 1527.7,4351.0 1390.0,4351.0" fill="#003CB8"/>
<polygon points="1554.1,4205.7 1770.0,4280.0 1784.0,4351.0 1527.7,4351.0" fill="#FF8000"/>
</g>
<g fill="none" stroke="#000" stroke-width="11.5" stroke-linejoin="round" stroke-linecap="round">
<polyline points="1815.0,3035.0 1756.0,3697.0"/>
<polyline points="141.0,3907.0 382.0,3972.0 646.0,3868.0"/>
<polyline points="382.0,3972.0 410.0,4351.0"/>
<polyline points="1273.0,3677.0 1252.0,3988.0 1195.0,4075.0 1037.0,4140.0 646.0,4002.0"/>
<polyline points="1252.0,3988.0 1399.0,4003.0"/>
<polyline points="1195.0,4075.0 1270.0,4151.0 1394.0,4143.0"/>
<polyline points="1270.0,4151.0 1248.0,4351.0"/>
<polyline points="1037.0,4140.0 1027.0,4351.0"/>
<polyline points="1855.0,3681.0 1973.0,3915.0 1770.0,4280.0 1784.0,4351.0"/>
<polyline points="1398.0,4152.0 1770.0,4280.0"/>
<polyline points="1973.0,3915.0 2060.0,3917.0 2256.0,3770.0"/>
<polyline points="2060.0,3917.0 2256.0,4030.0"/>
<polyline points="141.0,2833.0 615.0,3003.0 1075.0,2877.0"/>
<polyline points="615.0,3003.0 622.0,3641.0"/>
<polyline points="1337.0,2237.0 1478.0,2670.0 1397.0,2810.0 1080.0,2880.0"/>
<polyline points="1478.0,2670.0 1786.0,2666.0"/>
<polyline points="1786.0,2666.0 2000.0,2352.0"/>
<polyline points="1786.0,2666.0 1888.0,2990.0"/>
<polyline points="1888.0,2990.0 1815.0,3035.0"/>
<polyline points="1888.0,2990.0 2028.0,2995.0"/>
<polyline points="2028.0,2995.0 2256.0,2887.0"/>
<polyline points="2028.0,2995.0 2256.0,3110.0"/>
<polyline points="1397.0,2810.0 1815.0,3035.0"/>
</g>
<g fill="none" stroke="#000" stroke-width="19" stroke-linejoin="round" stroke-linecap="round">
<polyline points="1126.0,2237.0 1018.0,3513.0 646.0,3647.0 141.0,3552.0"/>
<polyline points="646.0,3647.0 646.0,4351.0"/>
<polyline points="1018.0,3513.0 1413.0,3763.0 2256.0,3604.0"/>
<polyline points="1413.0,3763.0 1390.0,4351.0"/>
<polyline points="1839.0,2237.0 2256.0,2535.0"/>
</g>
<rect x="133.25" y="2229.5" width="2131.5" height="2129" fill="none" stroke="#000" stroke-width="18.5"/>
<g font-family="'Liberation Serif',serif" fill="#fff">
<text x="352" y="2515" font-size="152" textLength="448" lengthAdjust="spacingAndGlyphs">Coping</text>
<text x="465" y="2632" font-size="152" textLength="260" lengthAdjust="spacingAndGlyphs">with</text>
<text x="395" y="2752" font-size="152" textLength="332" lengthAdjust="spacingAndGlyphs">stress</text>
<text x="160" y="3300" font-size="73" textLength="342" lengthAdjust="spacingAndGlyphs">Sporulation</text>
<text x="713" y="3205" font-size="39" textLength="190" lengthAdjust="spacingAndGlyphs">Exponential</text>
<text x="792" y="3237" font-size="39" textLength="56" lengthAdjust="spacingAndGlyphs">and</text>
<text x="780" y="3268" font-size="39" textLength="78" lengthAdjust="spacingAndGlyphs">early</text>
<text x="665" y="3298" font-size="39" textLength="261" lengthAdjust="spacingAndGlyphs">post-exponential</text>
<text x="743" y="3328" font-size="39" textLength="141" lengthAdjust="spacingAndGlyphs">lifestyles</text>
<text x="1135" y="2542" font-size="47" textLength="203" lengthAdjust="spacingAndGlyphs">Additional</text>
<text x="1138" y="2580" font-size="47" textLength="187" lengthAdjust="spacingAndGlyphs">metabolic</text>
<text x="1140" y="2617" font-size="47" textLength="180" lengthAdjust="spacingAndGlyphs">pathways</text>
<text x="1578" y="2430" font-size="66" textLength="140" lengthAdjust="spacingAndGlyphs">Lipid</text>
<text x="1458" y="2482" font-size="66" textLength="308" lengthAdjust="spacingAndGlyphs">metabolism</text>
<text x="1550" y="2822" font-size="43" textLength="190" lengthAdjust="spacingAndGlyphs">Nucleotide</text>
<text x="1540" y="2857" font-size="43" textLength="200" lengthAdjust="spacingAndGlyphs">metabolism</text>
<text x="1930" y="2642" font-size="53" textLength="180" lengthAdjust="spacingAndGlyphs">Electron</text>
<text x="1918" y="2682" font-size="53" textLength="187" lengthAdjust="spacingAndGlyphs">transport</text>
<text x="1990" y="2722" font-size="53" textLength="75" lengthAdjust="spacingAndGlyphs">and</text>
<text x="1990" y="2765" font-size="53" textLength="90" lengthAdjust="spacingAndGlyphs">ATP</text>
<text x="1915" y="2807" font-size="53" textLength="195" lengthAdjust="spacingAndGlyphs">synthesis</text>
<text x="2023" y="2355" font-size="36" textLength="150" lengthAdjust="spacingAndGlyphs">Prophages</text>
<text x="2118" y="2997" font-size="19.5" textLength="112" lengthAdjust="spacingAndGlyphs">Detoxification</text>
<text x="2140" y="3012" font-size="19.5" textLength="70" lengthAdjust="spacingAndGlyphs">reactions</text>
<text x="1235" y="3285" font-size="99" textLength="290" lengthAdjust="spacingAndGlyphs">Carbon</text>
<text x="1117" y="3362" font-size="99" textLength="470" lengthAdjust="spacingAndGlyphs">metabolism</text>
<text x="1915" y="3297" font-size="59.5" textLength="163" lengthAdjust="spacingAndGlyphs">Amino</text>
<text x="1938" y="3345" font-size="59.5" textLength="107" lengthAdjust="spacingAndGlyphs">acid/</text>
<text x="1885" y="3392" font-size="59.5" textLength="198" lengthAdjust="spacingAndGlyphs">nitrogen</text>
<text x="1835" y="3437" font-size="59.5" textLength="278" lengthAdjust="spacingAndGlyphs">metabolism</text>
<text x="330" y="3715" font-size="43" textLength="72" lengthAdjust="spacingAndGlyphs">Cell</text>
<text x="272" y="3750" font-size="43" textLength="155" lengthAdjust="spacingAndGlyphs">envelope</text>
<text x="331" y="3782" font-size="43" textLength="59" lengthAdjust="spacingAndGlyphs">and</text>
<text x="332" y="3817" font-size="43" textLength="60" lengthAdjust="spacingAndGlyphs">cell</text>
<text x="290" y="3850" font-size="43" textLength="137" lengthAdjust="spacingAndGlyphs">division</text>
<text x="152" y="4172" font-size="34" textLength="173" lengthAdjust="spacingAndGlyphs">Transporters</text>
<text x="425" y="4152" font-size="31" textLength="160" lengthAdjust="spacingAndGlyphs">Homeostasis</text>
<text x="795" y="3765" font-size="81" textLength="267" lengthAdjust="spacingAndGlyphs">Proteins</text>
<text x="922" y="3830" font-size="81" textLength="68" lengthAdjust="spacingAndGlyphs">of</text>
<text x="775" y="3895" font-size="81" textLength="302" lengthAdjust="spacingAndGlyphs">unknown</text>
<text x="795" y="3957" font-size="81" textLength="267" lengthAdjust="spacingAndGlyphs">function</text>
<text x="1276" y="3859" font-size="25.5" textLength="88" lengthAdjust="spacingAndGlyphs">Secreted</text>
<text x="1282" y="3877" font-size="25.5" textLength="80" lengthAdjust="spacingAndGlyphs">proteins</text>
<text x="1232" y="4082" font-size="18.5" textLength="123" lengthAdjust="spacingAndGlyphs">Phosphoproteins</text>
<text x="1270" y="4256" font-size="14" textLength="87" lengthAdjust="spacingAndGlyphs">Efp-dependent</text>
<text x="1295" y="4269" font-size="14" textLength="37" lengthAdjust="spacingAndGlyphs">proteins</text>
<text x="1095" y="4211" font-size="25" textLength="87" lengthAdjust="spacingAndGlyphs">Strongly</text>
<text x="1085" y="4230" font-size="25" textLength="92" lengthAdjust="spacingAndGlyphs">expressed</text>
<text x="1064" y="4251" font-size="25" textLength="131" lengthAdjust="spacingAndGlyphs">understudied</text>
<text x="1097" y="4270" font-size="25" textLength="80" lengthAdjust="spacingAndGlyphs">proteins</text>
<text x="769" y="4184" font-size="35" textLength="92" lengthAdjust="spacingAndGlyphs">Poorly</text>
<text x="697" y="4211" font-size="35" textLength="195" lengthAdjust="spacingAndGlyphs">characterized/</text>
<text x="749" y="4239" font-size="35" textLength="115" lengthAdjust="spacingAndGlyphs">putative</text>
<text x="742" y="4267" font-size="35" textLength="125" lengthAdjust="spacingAndGlyphs">enzymes</text>
<text x="1589" y="3907" font-size="48" textLength="137" lengthAdjust="spacingAndGlyphs">Protein</text>
<text x="1559" y="3946" font-size="48" textLength="175" lengthAdjust="spacingAndGlyphs">synthesis</text>
<text x="1522" y="3982" font-size="48" textLength="247" lengthAdjust="spacingAndGlyphs">modification</text>
<text x="1627" y="4021" font-size="48" textLength="68" lengthAdjust="spacingAndGlyphs">and</text>
<text x="1525" y="4057" font-size="48" textLength="227" lengthAdjust="spacingAndGlyphs">degradation</text>
<text x="2028" y="3720" font-size="26" textLength="77" lengthAdjust="spacingAndGlyphs">Protein</text>
<text x="2010" y="3740" font-size="26" textLength="95" lengthAdjust="spacingAndGlyphs">synthesis,</text>
<text x="1995" y="3760" font-size="26" textLength="133" lengthAdjust="spacingAndGlyphs">modification</text>
<text x="2053" y="3780" font-size="26" textLength="37" lengthAdjust="spacingAndGlyphs">and</text>
<text x="1998" y="3800" font-size="26" textLength="122" lengthAdjust="spacingAndGlyphs">degradation</text>
<text x="2168" y="3895" font-size="13" textLength="45" lengthAdjust="spacingAndGlyphs">Protein</text>
<text x="2158" y="3906" font-size="13" textLength="55" lengthAdjust="spacingAndGlyphs">synthesis,</text>
<text x="2145" y="3917" font-size="13" textLength="83" lengthAdjust="spacingAndGlyphs">modification,</text>
<text x="2150" y="3928" font-size="13" textLength="72" lengthAdjust="spacingAndGlyphs">degradation</text>
<text x="1885" y="4212" font-size="73" textLength="255" lengthAdjust="spacingAndGlyphs">Genetics</text>
<text x="1497" y="4264" font-size="21" textLength="93" lengthAdjust="spacingAndGlyphs">Regulation</text>
<text x="1545" y="4279" font-size="21" textLength="15" lengthAdjust="spacingAndGlyphs">of</text>
<text x="1532" y="4295" font-size="21" textLength="36" lengthAdjust="spacingAndGlyphs">gene</text>
<text x="1497" y="4312" font-size="21" textLength="88" lengthAdjust="spacingAndGlyphs">expression</text>
</g>
</g><g id="colorbar">
<rect x="60.5" y="2224.0" width="36.5" height="1138.6" fill="#808080"/>
<rect x="64" y="2226.5" width="33" height="52.6" fill="#C80000"/>
<rect x="64" y="2280.6" width="33" height="52.6" fill="#D00C00"/>
<rect x="64" y="2334.7" width="33" height="52.6" fill="#D81A00"/>
<rect x="64" y="2388.8" width="33" height="52.6" fill="#E02800"/>
<rect x="64" y="2442.9" width="33" height="52.6" fill="#E63800"/>
<rect x="64" y="2497.0" width="33" height="52.6" fill="#EE4800"/>
<rect x="64" y="2551.1" width="33" height="52.6" fill="#F85C00"/>
<rect x="64" y="2605.2" width="33" height="52.6" fill="#FF6C00"/>
<rect x="64" y="2659.3" width="33" height="52.6" fill="#FF8000"/>
<rect x="64" y="2713.4" width="33" height="52.6" fill="#FF9000"/>
<rect x="64" y="2767.5" width="33" height="52.6" fill="#FFA200"/>
<rect x="64" y="2821.6" width="33" height="52.6" fill="#00B4C8"/>
<rect x="64" y="2875.7" width="33" height="52.6" fill="#00A0C8"/>
<rect x="64" y="2929.8" width="33" height="52.6" fill="#008CC8"/>
<rect x="64" y="2983.9" width="33" height="52.6" fill="#0078C4"/>
<rect x="64" y="3038.0" width="33" height="52.6" fill="#0064C0"/>
<rect x="64" y="3092.1" width="33" height="52.6" fill="#0050BC"/>
<rect x="64" y="3146.2" width="33" height="52.6" fill="#003CB8"/>
<rect x="64" y="3200.3" width="33" height="52.6" fill="#0020B4"/>
<rect x="64" y="3254.4" width="33" height="52.6" fill="#000CB0"/>
<rect x="64" y="3308.5" width="33" height="52.6" fill="#0000A8"/>
<rect x="61" y="2278.3" width="36" height="2.7" fill="#1a0a0a"/>
<rect x="61" y="2332.4" width="36" height="2.7" fill="#1a0a0a"/>
<rect x="61" y="2386.5" width="36" height="2.7" fill="#1a0a0a"/>
<rect x="61" y="2440.6" width="36" height="2.7" fill="#1a0a0a"/>
<rect x="61" y="2494.7" width="36" height="2.7" fill="#1a0a0a"/>
<rect x="61" y="2548.8" width="36" height="2.7" fill="#1a0a0a"/>
<rect x="61" y="2602.9" width="36" height="2.7" fill="#1a0a0a"/>
<rect x="61" y="2657.0" width="36" height="2.7" fill="#1a0a0a"/>
<rect x="61" y="2711.1" width="36" height="2.7" fill="#1a0a0a"/>
<rect x="61" y="2765.2" width="36" height="2.7" fill="#1a0a0a"/>
<rect x="61" y="2819.3" width="36" height="2.7" fill="#1a0a0a"/>
<rect x="61" y="2873.4" width="36" height="2.7" fill="#1a0a0a"/>
<rect x="61" y="2927.5" width="36" height="2.7" fill="#1a0a0a"/>
<rect x="61" y="2981.6" width="36" height="2.7" fill="#1a0a0a"/>
<rect x="61" y="3035.7" width="36" height="2.7" fill="#1a0a0a"/>
<rect x="61" y="3089.8" width="36" height="2.7" fill="#1a0a0a"/>
<rect x="61" y="3143.9" width="36" height="2.7" fill="#1a0a0a"/>
<rect x="61" y="3198.0" width="36" height="2.7" fill="#1a0a0a"/>
<rect x="61" y="3252.1" width="36" height="2.7" fill="#1a0a0a"/>
<rect x="61" y="3306.2" width="36" height="2.7" fill="#1a0a0a"/>
<g font-family="'Liberation Serif',serif" font-size="45" fill="#222" text-anchor="end">
<text x="50.5" y="2267">8</text><text x="48.5" y="2807.5">1</text><text x="50.5" y="3346">-7</text>
</g></g>
</svg></body></html>
